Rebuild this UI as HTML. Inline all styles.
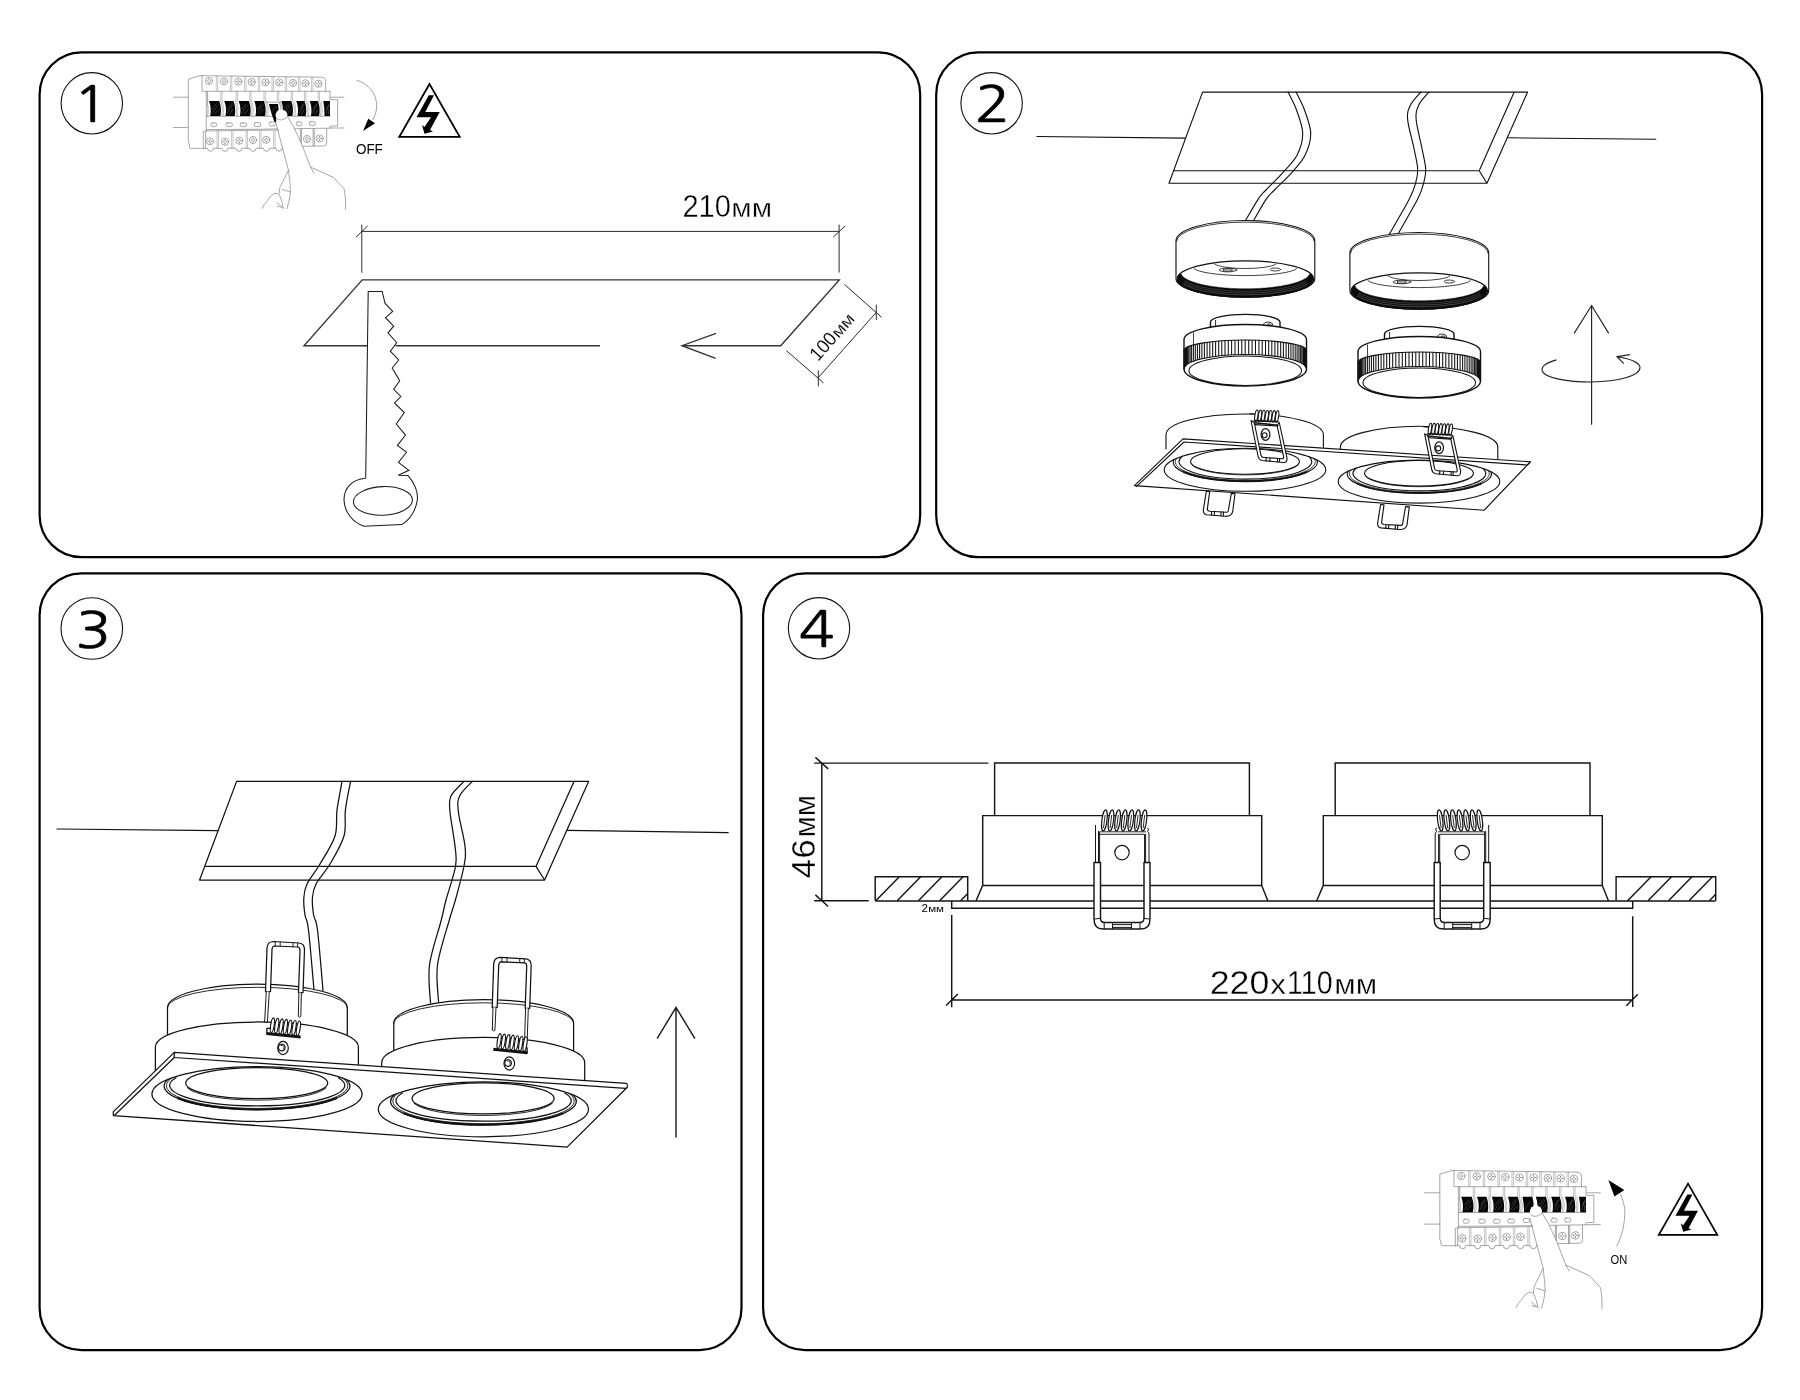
<!DOCTYPE html>
<html lang="ru">
<head>
<meta charset="utf-8">
<title>Инструкция по монтажу</title>
<style>
html,body{margin:0;padding:0;background:#fff;}
body{width:1800px;height:1400px;overflow:hidden;}
svg{display:block;position:absolute;left:0;top:0;will-change:transform;}
text{font-family:"Liberation Sans",sans-serif;fill:#000;}
.fr{fill:none;stroke:#000;stroke-width:2.2;}
.ln{fill:none;stroke:#111;stroke-width:1.1;stroke-linecap:round;stroke-linejoin:round;}
.th{fill:none;stroke:#222;stroke-width:0.8;stroke-linecap:round;stroke-linejoin:round;}
.gr{fill:none;stroke:#8a8a8a;stroke-width:0.8;stroke-linecap:round;stroke-linejoin:round;}
.dim{stroke:#fff;stroke-width:0.35px;}
.dim2{stroke:#fff;stroke-width:0.15px;}
.num{font-family:"NanumGothic","Liberation Sans",sans-serif;font-size:50.7px;stroke:#000;stroke-width:0.7px;}
</style>
</head>
<body>
<svg width="1800" height="1400" viewBox="0 0 1800 1400">
<rect width="1800" height="1400" fill="#fff"/>
<!-- FRAMES -->
<g id="frames">
<rect class="fr" x="39.6" y="52.4" width="880.6" height="504.8" rx="42" ry="42"/>
<rect class="fr" x="936.2" y="52.4" width="825.9" height="504.8" rx="42" ry="42"/>
<rect class="fr" x="39.6" y="573.3" width="701.9" height="776.8" rx="42" ry="42"/>
<rect class="fr" x="763.1" y="573.3" width="999" height="776.8" rx="42" ry="42"/>
</g>
<!-- STEP NUMBERS -->
<g id="steps">
<circle class="ln" cx="91.8" cy="103.3" r="30.7"/>
<circle class="ln" cx="991.6" cy="103.3" r="30.7"/>
<circle class="ln" cx="91.8" cy="628.5" r="30.8"/>
<circle class="ln" cx="819" cy="628.3" r="30.7"/>
<text class="num" x="73.3" y="122.2" textLength="35.3" lengthAdjust="spacingAndGlyphs">1</text>
<text class="num" x="975.1" y="122.1" textLength="35.3" lengthAdjust="spacingAndGlyphs">2</text>
<text class="num" x="75.7" y="647.5" textLength="35.3" lengthAdjust="spacingAndGlyphs">3</text>
<text class="num" x="799" y="647.3" textLength="35.3" lengthAdjust="spacingAndGlyphs">4</text>
</g>
<!--P1-->
<g id="p1-breaker">
<path stroke="#8c8c8c" stroke-width="0.75" fill="none" stroke-linecap="round" stroke-linejoin="round" d="M202,75.7 L199.3,75.7 L188.3,79.3 L188.3,142.8 L189.4,143.6 L189.4,147.2 Q189.6,148.4 191,148.4 L203.3,148.4"/>
<path stroke="#8c8c8c" stroke-width="0.75" fill="none" stroke-linecap="round" stroke-linejoin="round" d="M173.3,97.2 H188.3 M173.3,127.5 H188.3 M330.7,97.2 H344 M330.4,128 H344"/>
<path stroke="#8c8c8c" stroke-width="0.75" fill="none" stroke-linecap="round" stroke-linejoin="round" d="M202,75.7 L321.5,77.2 Q325.7,77.4 325.7,81.5 L325.7,91.3 M202,75.7 V91.3 H330"/>
<path stroke="#999" stroke-width="0.55" fill="none" stroke-linecap="round" stroke-linejoin="round" d="M216.3,76.0 V91.3 M217.8,76.0 V91.3"/>
<path stroke="#999" stroke-width="0.55" fill="none" stroke-linecap="round" stroke-linejoin="round" d="M230.3,76.2 V91.3 M231.8,76.2 V91.3"/>
<path stroke="#999" stroke-width="0.55" fill="none" stroke-linecap="round" stroke-linejoin="round" d="M244.60000000000002,76.4 V91.3 M246.10000000000002,76.4 V91.3"/>
<path stroke="#999" stroke-width="0.55" fill="none" stroke-linecap="round" stroke-linejoin="round" d="M258.3,76.6 V91.3 M259.8,76.6 V91.3"/>
<path stroke="#999" stroke-width="0.55" fill="none" stroke-linecap="round" stroke-linejoin="round" d="M272.0,76.8 V91.3 M273.5,76.8 V91.3"/>
<path stroke="#999" stroke-width="0.55" fill="none" stroke-linecap="round" stroke-linejoin="round" d="M285.2,76.9 V91.3 M286.7,76.9 V91.3"/>
<path stroke="#999" stroke-width="0.55" fill="none" stroke-linecap="round" stroke-linejoin="round" d="M298.6,77.1 V91.3 M300.1,77.1 V91.3"/>
<path stroke="#999" stroke-width="0.55" fill="none" stroke-linecap="round" stroke-linejoin="round" d="M311.6,77.3 V91.3 M313.1,77.3 V91.3"/>
<circle stroke="#8c8c8c" stroke-width="0.75" fill="none" stroke-linecap="round" stroke-linejoin="round" cx="209" cy="81" r="3.6"/>
<path stroke="#555" stroke-width="0.8" fill="none" d="M206.8,81 H208.2 M209.8,81 H211.2 M209,78.7 V80.2 M209,81.8 V83.6"/>
<circle stroke="#8c8c8c" stroke-width="0.75" fill="none" stroke-linecap="round" stroke-linejoin="round" cx="224" cy="81.3" r="3.6"/>
<path stroke="#555" stroke-width="0.8" fill="none" d="M221.8,81.3 H223.2 M224.8,81.3 H226.2 M224,79.0 V80.5 M224,82.1 V83.89999999999999"/>
<circle stroke="#8c8c8c" stroke-width="0.75" fill="none" stroke-linecap="round" stroke-linejoin="round" cx="238.3" cy="81.5" r="3.6"/>
<path stroke="#555" stroke-width="0.8" fill="none" d="M236.10000000000002,81.5 H237.5 M239.10000000000002,81.5 H240.5 M238.3,79.2 V80.7 M238.3,82.3 V84.1"/>
<circle stroke="#8c8c8c" stroke-width="0.75" fill="none" stroke-linecap="round" stroke-linejoin="round" cx="251.7" cy="82" r="3.6"/>
<path stroke="#555" stroke-width="0.8" fill="none" d="M249.5,82 H250.89999999999998 M252.5,82 H253.89999999999998 M251.7,79.7 V81.2 M251.7,82.8 V84.6"/>
<circle stroke="#8c8c8c" stroke-width="0.75" fill="none" stroke-linecap="round" stroke-linejoin="round" cx="265.5" cy="82.4" r="3.6"/>
<path stroke="#555" stroke-width="0.8" fill="none" d="M263.3,82.4 H264.7 M266.3,82.4 H267.7 M265.5,80.10000000000001 V81.60000000000001 M265.5,83.2 V85.0"/>
<circle stroke="#8c8c8c" stroke-width="0.75" fill="none" stroke-linecap="round" stroke-linejoin="round" cx="279.2" cy="82.4" r="3.6"/>
<path stroke="#555" stroke-width="0.8" fill="none" d="M277.0,82.4 H278.4 M280.0,82.4 H281.4 M279.2,80.10000000000001 V81.60000000000001 M279.2,83.2 V85.0"/>
<circle stroke="#8c8c8c" stroke-width="0.75" fill="none" stroke-linecap="round" stroke-linejoin="round" cx="293" cy="83" r="3.6"/>
<path stroke="#555" stroke-width="0.8" fill="none" d="M290.8,83 H292.2 M293.8,83 H295.2 M293,80.7 V82.2 M293,83.8 V85.6"/>
<circle stroke="#8c8c8c" stroke-width="0.75" fill="none" stroke-linecap="round" stroke-linejoin="round" cx="305.4" cy="83.3" r="3.6"/>
<path stroke="#555" stroke-width="0.8" fill="none" d="M303.2,83.3 H304.59999999999997 M306.2,83.3 H307.59999999999997 M305.4,81.0 V82.5 M305.4,84.1 V85.89999999999999"/>
<circle stroke="#8c8c8c" stroke-width="0.75" fill="none" stroke-linecap="round" stroke-linejoin="round" cx="318.3" cy="83.7" r="3.6"/>
<path stroke="#555" stroke-width="0.8" fill="none" d="M316.1,83.7 H317.5 M319.1,83.7 H320.5 M318.3,81.4 V82.9 M318.3,84.5 V86.3"/>
<circle stroke="#8c8c8c" stroke-width="0.75" fill="none" stroke-linecap="round" stroke-linejoin="round" cx="210" cy="141.3" r="3.6"/>
<path stroke="#555" stroke-width="0.8" fill="none" d="M207.8,141.3 H209.2 M210.8,141.3 H212.2 M210,139.0 V140.5 M210,142.10000000000002 V143.9"/>
<circle stroke="#8c8c8c" stroke-width="0.75" fill="none" stroke-linecap="round" stroke-linejoin="round" cx="225" cy="141.7" r="3.6"/>
<path stroke="#555" stroke-width="0.8" fill="none" d="M222.8,141.7 H224.2 M225.8,141.7 H227.2 M225,139.39999999999998 V140.89999999999998 M225,142.5 V144.29999999999998"/>
<circle stroke="#8c8c8c" stroke-width="0.75" fill="none" stroke-linecap="round" stroke-linejoin="round" cx="239.3" cy="140.7" r="3.6"/>
<path stroke="#555" stroke-width="0.8" fill="none" d="M237.10000000000002,140.7 H238.5 M240.10000000000002,140.7 H241.5 M239.3,138.39999999999998 V139.89999999999998 M239.3,141.5 V143.29999999999998"/>
<circle stroke="#8c8c8c" stroke-width="0.75" fill="none" stroke-linecap="round" stroke-linejoin="round" cx="253" cy="140" r="3.6"/>
<path stroke="#555" stroke-width="0.8" fill="none" d="M250.8,140 H252.2 M253.8,140 H255.2 M253,137.7 V139.2 M253,140.8 V142.6"/>
<circle stroke="#8c8c8c" stroke-width="0.75" fill="none" stroke-linecap="round" stroke-linejoin="round" cx="266.3" cy="139.8" r="3.6"/>
<path stroke="#555" stroke-width="0.8" fill="none" d="M264.1,139.8 H265.5 M267.1,139.8 H268.5 M266.3,137.5 V139.0 M266.3,140.60000000000002 V142.4"/>
<circle stroke="#8c8c8c" stroke-width="0.75" fill="none" stroke-linecap="round" stroke-linejoin="round" cx="307" cy="139" r="3.6"/>
<path stroke="#555" stroke-width="0.8" fill="none" d="M304.8,139 H306.2 M307.8,139 H309.2 M307,136.7 V138.2 M307,139.8 V141.6"/>
<circle stroke="#8c8c8c" stroke-width="0.75" fill="none" stroke-linecap="round" stroke-linejoin="round" cx="319.7" cy="138.4" r="3.6"/>
<path stroke="#555" stroke-width="0.8" fill="none" d="M317.5,138.4 H318.9 M320.5,138.4 H321.9 M319.7,136.1 V137.6 M319.7,139.20000000000002 V141.0"/>
<path stroke="#8c8c8c" stroke-width="0.75" fill="none" stroke-linecap="round" stroke-linejoin="round" d="M206.3,91.3 V131 M330,91.3 V99.7 H337.7 V126 H331 M330,126.3 V128"/>
<path stroke="#999" stroke-width="0.55" fill="none" stroke-linecap="round" stroke-linejoin="round" d="M220.70000000000002,91.3 V101 M222.10000000000002,91.3 V101"/>
<path stroke="#999" stroke-width="0.55" fill="none" stroke-linecap="round" stroke-linejoin="round" d="M236.1,91.3 V101 M237.5,91.3 V101"/>
<path stroke="#999" stroke-width="0.55" fill="none" stroke-linecap="round" stroke-linejoin="round" d="M249.70000000000002,91.3 V101 M251.10000000000002,91.3 V101"/>
<path stroke="#999" stroke-width="0.55" fill="none" stroke-linecap="round" stroke-linejoin="round" d="M263.9,91.3 V101 M265.3,91.3 V101"/>
<path stroke="#999" stroke-width="0.55" fill="none" stroke-linecap="round" stroke-linejoin="round" d="M277.4,91.3 V101 M278.8,91.3 V101"/>
<path stroke="#999" stroke-width="0.55" fill="none" stroke-linecap="round" stroke-linejoin="round" d="M291.09999999999997,91.3 V101 M292.5,91.3 V101"/>
<path stroke="#999" stroke-width="0.55" fill="none" stroke-linecap="round" stroke-linejoin="round" d="M304.4,91.3 V101 M305.8,91.3 V101"/>
<path stroke="#999" stroke-width="0.55" fill="none" stroke-linecap="round" stroke-linejoin="round" d="M318.09999999999997,91.3 V101 M319.5,91.3 V101"/>
<path stroke="#8c8c8c" stroke-width="0.75" fill="none" stroke-linecap="round" stroke-linejoin="round" d="M207.6,91.3 V101"/>
<path stroke="#8c8c8c" stroke-width="0.75" fill="none" stroke-linecap="round" stroke-linejoin="round" d="M206.3,116.3 H330 M206.3,129.6 L262,129.2 L300,128.6 L330,128.2"/>
<rect stroke="#8c8c8c" stroke-width="0.75" fill="none" stroke-linecap="round" stroke-linejoin="round" x="211" y="122.8" width="5.7" height="3.8" rx="1.4"/>
<rect stroke="#8c8c8c" stroke-width="0.75" fill="none" stroke-linecap="round" stroke-linejoin="round" x="226" y="122.8" width="6.3" height="3.8" rx="1.4"/>
<rect stroke="#8c8c8c" stroke-width="0.75" fill="none" stroke-linecap="round" stroke-linejoin="round" x="240.3" y="122.8" width="6.4" height="3.8" rx="1.4"/>
<rect stroke="#8c8c8c" stroke-width="0.75" fill="none" stroke-linecap="round" stroke-linejoin="round" x="254.3" y="122.6" width="6.4" height="3.8" rx="1.4"/>
<rect stroke="#8c8c8c" stroke-width="0.75" fill="none" stroke-linecap="round" stroke-linejoin="round" x="269.3" y="122" width="6.0" height="3.8" rx="1.4"/>
<rect stroke="#8c8c8c" stroke-width="0.75" fill="none" stroke-linecap="round" stroke-linejoin="round" x="296.3" y="121.8" width="5.7" height="3.8" rx="1.4"/>
<rect stroke="#8c8c8c" stroke-width="0.75" fill="none" stroke-linecap="round" stroke-linejoin="round" x="309.3" y="121.6" width="6.0" height="3.8" rx="1.4"/>
<path stroke="#8c8c8c" stroke-width="0.75" fill="none" stroke-linecap="round" stroke-linejoin="round" d="M203.3,148.4 V131.4 L206.3,131 L290,129.8"/>
<path stroke="#999" stroke-width="0.55" fill="none" stroke-linecap="round" stroke-linejoin="round" d="M217.0,131 V148.2 M218.5,131 V148.2"/>
<path stroke="#999" stroke-width="0.55" fill="none" stroke-linecap="round" stroke-linejoin="round" d="M231.60000000000002,131 V148.2 M233.10000000000002,131 V148.2"/>
<path stroke="#999" stroke-width="0.55" fill="none" stroke-linecap="round" stroke-linejoin="round" d="M246.0,131 V148.2 M247.5,131 V148.2"/>
<path stroke="#999" stroke-width="0.55" fill="none" stroke-linecap="round" stroke-linejoin="round" d="M259.6,131 V148.2 M261.1,131 V148.2"/>
<path stroke="#999" stroke-width="0.55" fill="none" stroke-linecap="round" stroke-linejoin="round" d="M273.6,131 V148.2 M275.1,131 V148.2"/>
<path stroke="#8c8c8c" stroke-width="0.75" fill="none" stroke-linecap="round" stroke-linejoin="round" d="M205.6,131.2 V148.2"/>
<path stroke="#8c8c8c" stroke-width="0.75" fill="none" stroke-linecap="round" stroke-linejoin="round" d="M203.3,148.4 L207.5,148.3 L208.3,150.6 Q210.5,152 212.7,150.6 L213.5,148.2 L222,148.3 L222.8,150.6 Q225,152 227.2,150.6 L228,148.2 L236,148.3 L236.8,150.6 Q239,152 241.2,150.6 L242,148.2 L250,148.3 L250.8,150.6 Q253,152 255.2,150.6 L256,148.2 L263.5,148.3 L264.3,150.6 Q266.5,152 268.7,150.6 L269.5,148.2 L276,148.3 L276.8,150.6 Q279,152 281.2,150.6 L282,148.2 L285,148"/>
<path stroke="#8c8c8c" stroke-width="0.75" fill="none" stroke-linecap="round" stroke-linejoin="round" d="M300.3,129 V146 M301.5,129 V146 M313.1,129 V146 M314.3,129 V146 M326.7,128.3 V143 Q326.6,146 323.5,146 L296,146.3"/>
<path fill="#050505" d="M209,101 L219.2,101 Q222,108.5 220.4,115.9 L210.2,115.9 Q211.8,108.5 209,101Z"/>
<path stroke="#fff" stroke-opacity="0.4" stroke-width="0.5" fill="none" d="M211.8,113.5 L218.5,104.5 M212,109.5 L216.5,103.5 M214,114.5 L219,109"/>
<path stroke="#999" stroke-width="0.55" fill="none" stroke-linecap="round" stroke-linejoin="round" d="M220.9,101.3 Q223.4,108.5 221.9,115.8 M222.3,101.3 Q224.8,108.5 223.2,115.8"/>
<path fill="#050505" d="M224.3,101 L233.5,101 Q236.3,108.5 234.70000000000002,115.9 L225.5,115.9 Q227.10000000000002,108.5 224.3,101Z"/>
<path stroke="#fff" stroke-opacity="0.4" stroke-width="0.5" fill="none" d="M227.10000000000002,113.5 L232.8,104.5 M227.3,109.5 L231.8,103.5 M229.3,114.5 L233.3,109"/>
<path stroke="#999" stroke-width="0.55" fill="none" stroke-linecap="round" stroke-linejoin="round" d="M235.20000000000002,101.3 Q237.70000000000002,108.5 236.20000000000002,115.8 M236.60000000000002,101.3 Q239.10000000000002,108.5 237.5,115.8"/>
<path fill="#050505" d="M238.7,101 L248.89999999999998,101 Q251.7,108.5 250.1,115.9 L239.89999999999998,115.9 Q241.5,108.5 238.7,101Z"/>
<path stroke="#fff" stroke-opacity="0.4" stroke-width="0.5" fill="none" d="M241.5,113.5 L248.2,104.5 M241.7,109.5 L246.2,103.5 M243.7,114.5 L248.7,109"/>
<path stroke="#999" stroke-width="0.55" fill="none" stroke-linecap="round" stroke-linejoin="round" d="M250.6,101.3 Q253.1,108.5 251.6,115.8 M252.0,101.3 Q254.5,108.5 252.89999999999998,115.8"/>
<path fill="#050505" d="M254.3,101 L263.9,101 Q266.7,108.5 265.09999999999997,115.9 L255.5,115.9 Q257.1,108.5 254.3,101Z"/>
<path stroke="#fff" stroke-opacity="0.4" stroke-width="0.5" fill="none" d="M257.1,113.5 L263.2,104.5 M257.3,109.5 L261.8,103.5 M259.3,114.5 L263.7,109"/>
<path stroke="#999" stroke-width="0.55" fill="none" stroke-linecap="round" stroke-linejoin="round" d="M265.59999999999997,101.3 Q268.09999999999997,108.5 266.59999999999997,115.8 M267.0,101.3 Q269.5,108.5 267.9,115.8"/>
<path fill="#050505" d="M281.3,101 L291.2,101 Q294,108.5 292.4,115.9 L282.5,115.9 Q284.1,108.5 281.3,101Z"/>
<path stroke="#fff" stroke-opacity="0.4" stroke-width="0.5" fill="none" d="M284.1,113.5 L290.5,104.5 M284.3,109.5 L288.8,103.5 M286.3,114.5 L291,109"/>
<path stroke="#999" stroke-width="0.55" fill="none" stroke-linecap="round" stroke-linejoin="round" d="M292.9,101.3 Q295.4,108.5 293.9,115.8 M294.3,101.3 Q296.8,108.5 295.2,115.8"/>
<path fill="#050505" d="M296.3,101 L304.5,101 Q307.3,108.5 305.7,115.9 L297.5,115.9 Q299.1,108.5 296.3,101Z"/>
<path stroke="#fff" stroke-opacity="0.4" stroke-width="0.5" fill="none" d="M299.1,113.5 L303.8,104.5 M299.3,109.5 L303.8,103.5 M301.3,114.5 L304.3,109"/>
<path stroke="#999" stroke-width="0.55" fill="none" stroke-linecap="round" stroke-linejoin="round" d="M306.2,101.3 Q308.7,108.5 307.2,115.8 M307.6,101.3 Q310.1,108.5 308.5,115.8"/>
<path fill="#050505" d="M309.7,101 L317.9,101 Q320.7,108.5 319.09999999999997,115.9 L310.9,115.9 Q312.5,108.5 309.7,101Z"/>
<path stroke="#fff" stroke-opacity="0.4" stroke-width="0.5" fill="none" d="M312.5,113.5 L317.2,104.5 M312.7,109.5 L317.2,103.5 M314.7,114.5 L317.7,109"/>
<path stroke="#999" stroke-width="0.55" fill="none" stroke-linecap="round" stroke-linejoin="round" d="M319.59999999999997,101.3 Q322.09999999999997,108.5 320.59999999999997,115.8 M321.0,101.3 Q323.5,108.5 321.9,115.8"/>
<path fill="#050505" d="M323.3,101 L330,101 L330,115.9 L324.5,115.9 Q324.7,108 323.3,101Z"/>
<path stroke="#fff" stroke-opacity="0.4" stroke-width="0.5" fill="none" d="M326.1,113.5 L328.5,104.5 M326.3,109.5 L330.8,103.5 M328.3,114.5 L329,109"/>
<path stroke="#8c8c8c" stroke-width="0.75" fill="none" stroke-linecap="round" stroke-linejoin="round" d="M207.3,101.2 Q208.6,108 207.8,116"/>
<path fill="#050505" d="M269,104 L278,104 L278.6,109 L276.2,122.2 L274.2,121.6 Q270.6,112 269,104Z"/>
<path stroke="#fff" stroke-opacity="0.33" stroke-width="0.5" fill="none" d="M271.5,112 L276,106"/>
<path stroke="#8c8c8c" stroke-width="0.75" fill="none" stroke-linecap="round" stroke-linejoin="round" d="M264.9,102.2 H280.5 M279.2,102.5 Q281,107 281.3,111 M280.6,102.5 Q282.6,107 282.8,111"/>
<path fill="#fff" stroke="none" d="M276,119 L288.5,170.2 L310.5,167.1 L304.2,150.6 L300.3,141.1 L294,127.8 L287.5,116.5 Z"/>
<circle fill="#fff" stroke="none" cx="281.5" cy="115.3" r="5.9"/>
<path stroke="#8c8c8c" stroke-width="0.75" stroke-linecap="round" stroke-linejoin="round" fill="none" d="M276.6,118.4 Q281,122.6 287.4,116.8"/>
<path stroke="#8c8c8c" stroke-width="0.75" stroke-linecap="round" stroke-linejoin="round" fill="none" d="M275.6,122 L288.5,170.2 L290,183.6 L290.5,192.2 L288.9,201.6 L286.9,208.7"/>
<path stroke="#8c8c8c" stroke-width="0.75" stroke-linecap="round" stroke-linejoin="round" fill="none" d="M288.5,170.2 L279.9,187.5 L279,194.2"/>
<path stroke="#8c8c8c" stroke-width="0.75" stroke-linecap="round" stroke-linejoin="round" fill="none" d="M262.2,208.3 Q264,204 267.5,200.5 Q271.5,194.5 274.4,193.4 Q277.5,192.6 279.6,195.6 Q282.4,201 283.4,208.3"/>
<path stroke="#8c8c8c" stroke-width="0.75" stroke-linecap="round" stroke-linejoin="round" fill="none" d="M282.6,189.5 L290.5,192.2 M277.1,202.8 L283.4,208.3 M277.5,206.4 L281.4,207.2"/>
<path stroke="#8c8c8c" stroke-width="0.75" stroke-linecap="round" stroke-linejoin="round" fill="none" d="M287.7,116.8 L294,127.8 L300.3,141.1 L304.2,150.6 L310.5,167.1 L314,173"/>
<path stroke="#8c8c8c" stroke-width="0.75" stroke-linecap="round" stroke-linejoin="round" fill="none" d="M310.5,167.1 L333.3,177.3 L344.3,189.1 L345.5,199.3 L345.5,209.1"/>
</g>
<path fill="none" stroke="#8c8c8c" stroke-width="0.8" d="M356.7,80.3 C368,83 377,94 376.7,106 C376.5,112 375,116 372.7,120"/>
<path fill="#000" d="M368.3,118.7 L375,123.3 L363,131 Z"/>
<text x="356" y="154.2" font-size="14" textLength="26.8" lengthAdjust="spacingAndGlyphs">OFF</text>
<g id="p1-warning"><path fill="none" stroke="#000" stroke-width="1.8" stroke-linejoin="miter" d="M429.5,84.05 L399.3,136.85 L459.7,136.85 Z"/>
<path fill="#000" d="M428.75,95.25 L434,95.25 L425.25,112 L439.75,112 L430,130 L433,131.5 L424.5,133.75 L422,125 L424.5,127 L431,117.25 L416.5,117.25 Z"/></g>
<path stroke="#2c2c2c" stroke-width="1" fill="none" stroke-linecap="butt" d="M361.8,231.4 H839.1 M361.8,224.6 V272.8 M839.1,224.6 V272.6 M356,237.2 L367.6,226 M833.3,237.2 L845,226"/>
<text class="dim" y="216.8"><tspan font-family="Liberation Sans,sans-serif" font-size="31" x="682.44" textLength="48.39" lengthAdjust="spacingAndGlyphs">210</tspan><tspan font-family="Liberation Sans,sans-serif" font-size="26.1" x="731.35" textLength="40.69" lengthAdjust="spacingAndGlyphs">мм</tspan></text>
<path stroke="#333" stroke-width="1.35" fill="none" stroke-linejoin="miter" stroke-linecap="butt" d="M367,345.7 H304 L362.2,279.9 H839.3 L780.7,345.7 H682 M395.6,345.7 H600"/>
<path stroke="#333" stroke-width="1.35" fill="none" stroke-linejoin="miter" stroke-linecap="butt" d="M716,333.3 L682,345.7 L715.7,358.3"/>
<path stroke="#2c2c2c" stroke-width="1" fill="none" stroke-linecap="butt" d="M844.4,284.4 L881.6,317.3 M786.4,350.7 L823.6,382.9 M876.3,312.3 L818.3,377.6 M876.3,304.7 V320 M818.3,370.4 V386.4"/>
<text transform="translate(810.6,370.25) rotate(-48.3)" class="dim2" y="0"><tspan font-family="Liberation Sans,sans-serif" font-size="19.4" x="11.02" textLength="30.29" lengthAdjust="spacingAndGlyphs">100</tspan><tspan font-family="Liberation Sans,sans-serif" font-size="16.8" x="41.78" textLength="26.13" lengthAdjust="spacingAndGlyphs">мм</tspan></text>
<path stroke="#1c1c1c" stroke-width="1.05" fill="none" stroke-linejoin="miter" d="M365.7,478.3 L368.2,291.5 L382.2,291.5 L385,303.2 L392.7,311.5 L385.5,317.7 L393.7,326.2 L388,332.8 L396.7,342.7 L390.3,351.2 L398.7,360 L392.2,368 L399.7,380.7 L393.7,389.3 L400.8,396.5 L394.5,402.9 L404.3,412.6 L396.3,424 L405.5,435.1 L397.4,445.4 L406.5,452.2 L398.5,462.5 L408.9,470.3 L398.3,475.2 L407.8,475.4 C414,482 418.5,492 417.3,500 C416,510 410,520 401.7,524.6 L364,526.3 C352,522 344.5,512 344,500 C343.8,488 352,479.5 365.7,478.3"/>
<ellipse stroke="#1c1c1c" stroke-width="1.05" fill="none" stroke-linejoin="miter" cx="382.9" cy="500.9" rx="29.5" ry="14.3" transform="rotate(-2.2 382.9 500.9)"/>
<!--/P1-->
<!--P2-->
<path stroke="#111" stroke-width="1.12" fill="none" stroke-linecap="round" stroke-linejoin="round" d="M1036.9,136.5 L1185.3,138.1 M1508,137.8 L1655.8,139.3"/>
<path stroke="#111" stroke-width="1.12" fill="none" stroke-linecap="round" stroke-linejoin="round" d="M1202.6,92.1 H1527.6 L1487,183.3 H1169 Z M1173.8,170.7 H1479.2 L1487,183.3 M1479.2,170.7 L1514.2,92.1"/>
<path stroke="#111" stroke-width="1.12" fill="none" stroke-linecap="round" stroke-linejoin="round" d="M1288.1,92.1 C1289.5,95.1 1294.1,103.1 1296.5,110.0 C1298.9,116.9 1302.6,125.9 1302.7,133.3 C1302.8,140.8 1300.6,148.2 1297.3,154.7 C1294.0,161.2 1288.3,166.5 1283.1,172.4 C1277.9,178.3 1270.2,185.6 1266.0,190.0 C1261.8,194.4 1261.7,193.8 1258.2,199.1 C1254.7,204.3 1247.2,217.8 1245.0,221.5"/>
<path stroke="#111" stroke-width="1.12" fill="none" stroke-linecap="round" stroke-linejoin="round" d="M1296.1,92.1 C1297.5,95.1 1302.1,103.1 1304.5,110.0 C1306.9,116.9 1310.6,125.9 1310.7,133.3 C1310.8,140.8 1308.4,148.2 1305.3,154.7 C1302.2,161.2 1297.1,166.5 1292.0,172.4 C1286.9,178.3 1278.8,185.6 1274.5,190.0 C1270.2,194.4 1269.8,193.8 1266.2,199.1 C1262.6,204.3 1255.2,217.8 1253.0,221.5"/>
<path stroke="#111" stroke-width="1.12" fill="none" stroke-linecap="round" stroke-linejoin="round" d="M1420.9,92.1 C1419.2,94.2 1412.7,100.5 1410.5,105.0 C1408.3,109.5 1407.0,112.0 1407.6,119.1 C1408.1,126.2 1412.1,139.3 1413.8,147.6 C1415.5,155.9 1417.4,163.0 1417.7,168.9 C1418.0,174.8 1417.0,178.1 1415.6,183.1 C1414.2,188.1 1413.7,190.5 1409.3,199.1 C1404.9,207.7 1392.4,228.9 1389.0,234.8"/>
<path stroke="#111" stroke-width="1.12" fill="none" stroke-linecap="round" stroke-linejoin="round" d="M1428.9,92.1 C1427.2,94.2 1420.9,100.5 1418.8,105.0 C1416.7,109.5 1415.6,112.0 1416.1,119.1 C1416.6,126.2 1420.2,139.3 1421.8,147.6 C1423.4,155.9 1425.4,163.0 1425.7,168.9 C1426.0,174.8 1424.9,178.1 1423.6,183.1 C1422.3,188.1 1422.0,190.6 1417.7,199.1 C1413.4,207.6 1401.1,228.4 1397.8,234.3"/>
<g id="p2-holders">
<g transform="translate(0,0)">
<path stroke="#111" stroke-width="1.12" fill="#fff" stroke-linecap="round" stroke-linejoin="round" d="M1176.0,241 A69.4,20.5 0 0 1 1314.8000000000002,241 L1314.8000000000002,278.5 A69.4,18.7 0 0 1 1176.0,278.5 Z"/>
<path stroke="#111" fill="none" stroke-linecap="round" stroke-linejoin="round" stroke-width="0.8" d="M1176.6,241.2 A68.80000000000001,19.1 0 0 1 1314.2000000000003,241.2"/>
<ellipse stroke="#111" fill="none" stroke-linecap="round" stroke-linejoin="round" stroke-width="1.15" cx="1245.4" cy="279" rx="68.2" ry="18.2"/>
<path stroke="#111" fill="none" stroke-linecap="round" stroke-linejoin="round" stroke-width="0.8" d="M1194,268.6 A52,8.3 0 0 0 1296.5,268.8"/>
<path stroke="#111" fill="none" stroke-linecap="round" stroke-linejoin="round" stroke-width="0.8" d="M1214.5,264 A31.5,5.8 0 0 0 1276,264"/>
<ellipse stroke="#111" fill="none" stroke-linecap="round" stroke-linejoin="round" stroke-width="0.8" cx="1228" cy="270" rx="9" ry="1.8"/>
<path stroke="#111" fill="none" stroke-linecap="round" stroke-linejoin="round" stroke-width="0.8" d="M1224,269 H1232 V271 H1224Z"/>
<ellipse stroke="#111" fill="none" stroke-linecap="round" stroke-linejoin="round" stroke-width="0.8" cx="1275.5" cy="269.5" rx="5.3" ry="1.5"/>
<path fill="#0a0a0a" stroke="#0a0a0a" stroke-width="0.5" d="M1177.4,279.0 L1178.5,282.3 L1179.7,283.6 L1180.8,284.6 L1181.9,285.5 L1183.1,286.2 L1184.2,286.8 L1185.3,287.4 L1186.5,288.0 L1187.6,288.5 L1188.7,288.9 L1189.9,289.4 L1191.0,289.8 L1192.1,290.2 L1193.3,290.6 L1194.4,290.9 L1195.5,291.2 L1196.7,291.6 L1197.8,291.9 L1198.9,292.1 L1200.1,292.4 L1201.2,292.7 L1202.3,292.9 L1203.5,293.2 L1204.6,293.4 L1205.7,293.6 L1206.9,293.8 L1208.0,294.0 L1209.1,294.2 L1210.3,294.4 L1211.4,294.6 L1212.5,294.8 L1213.7,294.9 L1214.8,295.1 L1215.9,295.2 L1217.1,295.4 L1218.2,295.5 L1219.3,295.6 L1220.5,295.7 L1221.6,295.9 L1222.7,296.0 L1223.9,296.1 L1225.0,296.2 L1226.1,296.3 L1227.3,296.3 L1228.4,296.4 L1229.5,296.5 L1230.7,296.6 L1231.8,296.6 L1232.9,296.7 L1234.1,296.7 L1235.2,296.8 L1236.3,296.8 L1237.5,296.9 L1238.6,296.9 L1239.7,296.9 L1240.9,297.0 L1242.0,297.0 L1243.1,297.0 L1244.3,297.0 L1245.4,297.0 L1246.5,297.0 L1247.7,297.0 L1248.8,297.0 L1249.9,297.0 L1251.1,296.9 L1252.2,296.9 L1253.3,296.9 L1254.5,296.8 L1255.6,296.8 L1256.7,296.7 L1257.9,296.7 L1259.0,296.6 L1260.1,296.6 L1261.3,296.5 L1262.4,296.4 L1263.5,296.3 L1264.7,296.3 L1265.8,296.2 L1266.9,296.1 L1268.1,296.0 L1269.2,295.9 L1270.3,295.7 L1271.5,295.6 L1272.6,295.5 L1273.7,295.4 L1274.9,295.2 L1276.0,295.1 L1277.1,294.9 L1278.3,294.8 L1279.4,294.6 L1280.5,294.4 L1281.7,294.2 L1282.8,294.0 L1283.9,293.8 L1285.1,293.6 L1286.2,293.4 L1287.3,293.2 L1288.5,292.9 L1289.6,292.7 L1290.7,292.4 L1291.9,292.1 L1293.0,291.9 L1294.1,291.6 L1295.3,291.2 L1296.4,290.9 L1297.5,290.6 L1298.7,290.2 L1299.8,289.8 L1300.9,289.4 L1302.1,288.9 L1303.2,288.5 L1304.3,288.0 L1305.5,287.4 L1306.6,286.8 L1307.7,286.2 L1308.9,285.5 L1310.0,284.6 L1311.1,283.6 L1312.3,282.3 L1313.4,279.0 L1313.4,279.0 L1312.3,275.7 L1311.1,274.4 L1310.0,273.4 L1308.9,275.5 L1307.7,276.7 L1306.6,277.7 L1305.5,278.4 L1304.3,279.1 L1303.2,279.7 L1302.1,280.3 L1300.9,280.8 L1299.8,281.2 L1298.7,281.7 L1297.5,282.1 L1296.4,282.5 L1295.3,282.8 L1294.1,283.2 L1293.0,283.5 L1291.9,283.8 L1290.7,284.1 L1289.6,284.4 L1288.5,284.6 L1287.3,284.9 L1286.2,285.1 L1285.1,285.3 L1283.9,285.6 L1282.8,285.8 L1281.7,286.0 L1280.5,286.2 L1279.4,286.3 L1278.3,286.5 L1277.1,286.7 L1276.0,286.8 L1274.9,287.0 L1273.7,287.1 L1272.6,287.3 L1271.5,287.4 L1270.3,287.5 L1269.2,287.6 L1268.1,287.8 L1266.9,287.9 L1265.8,288.0 L1264.7,288.1 L1263.5,288.1 L1262.4,288.2 L1261.3,288.3 L1260.1,288.4 L1259.0,288.4 L1257.9,288.5 L1256.7,288.5 L1255.6,288.6 L1254.5,288.6 L1253.3,288.7 L1252.2,288.7 L1251.1,288.7 L1249.9,288.8 L1248.8,288.8 L1247.7,288.8 L1246.5,288.8 L1245.4,288.8 L1244.3,288.8 L1243.1,288.8 L1242.0,288.8 L1240.9,288.8 L1239.7,288.7 L1238.6,288.7 L1237.5,288.7 L1236.3,288.6 L1235.2,288.6 L1234.1,288.5 L1232.9,288.5 L1231.8,288.4 L1230.7,288.4 L1229.5,288.3 L1228.4,288.2 L1227.3,288.1 L1226.1,288.1 L1225.0,288.0 L1223.9,287.9 L1222.7,287.8 L1221.6,287.6 L1220.5,287.5 L1219.3,287.4 L1218.2,287.3 L1217.1,287.1 L1215.9,287.0 L1214.8,286.8 L1213.7,286.7 L1212.5,286.5 L1211.4,286.3 L1210.3,286.2 L1209.1,286.0 L1208.0,285.8 L1206.9,285.6 L1205.7,285.3 L1204.6,285.1 L1203.5,284.9 L1202.3,284.6 L1201.2,284.4 L1200.1,284.1 L1198.9,283.8 L1197.8,283.5 L1196.7,283.2 L1195.5,282.8 L1194.4,282.5 L1193.3,282.1 L1192.1,281.7 L1191.0,281.2 L1189.9,280.8 L1188.7,280.3 L1187.6,279.7 L1186.5,279.1 L1185.3,278.4 L1184.2,277.7 L1183.1,276.7 L1181.9,275.5 L1180.8,273.4 L1179.7,274.4 L1178.5,275.7 L1177.4,279.0Z"/>
<path fill="none" stroke="#fff" stroke-opacity="0.5" stroke-width="0.45" d="M1183.1,283.8 A67.0,17.6 0 0 0 1307.7,283.8"/>
<path fill="none" stroke="#fff" stroke-opacity="0.45" stroke-width="0.45" d="M1183.9,282.2 A66.1,17.2 0 0 0 1306.9,282.2"/>
<path fill="none" stroke="#fff" stroke-opacity="0.4" stroke-width="0.45" d="M1184.7,280.7 A65.3,16.8 0 0 0 1306.1,280.7"/>
</g>
<g transform="translate(173.9,12)">
<path stroke="#111" stroke-width="1.12" fill="#fff" stroke-linecap="round" stroke-linejoin="round" d="M1176.0,241 A69.4,20.5 0 0 1 1314.8000000000002,241 L1314.8000000000002,278.5 A69.4,18.7 0 0 1 1176.0,278.5 Z"/>
<path stroke="#111" fill="none" stroke-linecap="round" stroke-linejoin="round" stroke-width="0.8" d="M1176.6,241.2 A68.80000000000001,19.1 0 0 1 1314.2000000000003,241.2"/>
<ellipse stroke="#111" fill="none" stroke-linecap="round" stroke-linejoin="round" stroke-width="1.15" cx="1245.4" cy="279" rx="68.2" ry="18.2"/>
<path stroke="#111" fill="none" stroke-linecap="round" stroke-linejoin="round" stroke-width="0.8" d="M1194,268.6 A52,8.3 0 0 0 1296.5,268.8"/>
<path stroke="#111" fill="none" stroke-linecap="round" stroke-linejoin="round" stroke-width="0.8" d="M1214.5,264 A31.5,5.8 0 0 0 1276,264"/>
<ellipse stroke="#111" fill="none" stroke-linecap="round" stroke-linejoin="round" stroke-width="0.8" cx="1228" cy="270" rx="9" ry="1.8"/>
<path stroke="#111" fill="none" stroke-linecap="round" stroke-linejoin="round" stroke-width="0.8" d="M1224,269 H1232 V271 H1224Z"/>
<ellipse stroke="#111" fill="none" stroke-linecap="round" stroke-linejoin="round" stroke-width="0.8" cx="1275.5" cy="269.5" rx="5.3" ry="1.5"/>
<path fill="#0a0a0a" stroke="#0a0a0a" stroke-width="0.5" d="M1177.4,279.0 L1178.5,282.3 L1179.7,283.6 L1180.8,284.6 L1181.9,285.5 L1183.1,286.2 L1184.2,286.8 L1185.3,287.4 L1186.5,288.0 L1187.6,288.5 L1188.7,288.9 L1189.9,289.4 L1191.0,289.8 L1192.1,290.2 L1193.3,290.6 L1194.4,290.9 L1195.5,291.2 L1196.7,291.6 L1197.8,291.9 L1198.9,292.1 L1200.1,292.4 L1201.2,292.7 L1202.3,292.9 L1203.5,293.2 L1204.6,293.4 L1205.7,293.6 L1206.9,293.8 L1208.0,294.0 L1209.1,294.2 L1210.3,294.4 L1211.4,294.6 L1212.5,294.8 L1213.7,294.9 L1214.8,295.1 L1215.9,295.2 L1217.1,295.4 L1218.2,295.5 L1219.3,295.6 L1220.5,295.7 L1221.6,295.9 L1222.7,296.0 L1223.9,296.1 L1225.0,296.2 L1226.1,296.3 L1227.3,296.3 L1228.4,296.4 L1229.5,296.5 L1230.7,296.6 L1231.8,296.6 L1232.9,296.7 L1234.1,296.7 L1235.2,296.8 L1236.3,296.8 L1237.5,296.9 L1238.6,296.9 L1239.7,296.9 L1240.9,297.0 L1242.0,297.0 L1243.1,297.0 L1244.3,297.0 L1245.4,297.0 L1246.5,297.0 L1247.7,297.0 L1248.8,297.0 L1249.9,297.0 L1251.1,296.9 L1252.2,296.9 L1253.3,296.9 L1254.5,296.8 L1255.6,296.8 L1256.7,296.7 L1257.9,296.7 L1259.0,296.6 L1260.1,296.6 L1261.3,296.5 L1262.4,296.4 L1263.5,296.3 L1264.7,296.3 L1265.8,296.2 L1266.9,296.1 L1268.1,296.0 L1269.2,295.9 L1270.3,295.7 L1271.5,295.6 L1272.6,295.5 L1273.7,295.4 L1274.9,295.2 L1276.0,295.1 L1277.1,294.9 L1278.3,294.8 L1279.4,294.6 L1280.5,294.4 L1281.7,294.2 L1282.8,294.0 L1283.9,293.8 L1285.1,293.6 L1286.2,293.4 L1287.3,293.2 L1288.5,292.9 L1289.6,292.7 L1290.7,292.4 L1291.9,292.1 L1293.0,291.9 L1294.1,291.6 L1295.3,291.2 L1296.4,290.9 L1297.5,290.6 L1298.7,290.2 L1299.8,289.8 L1300.9,289.4 L1302.1,288.9 L1303.2,288.5 L1304.3,288.0 L1305.5,287.4 L1306.6,286.8 L1307.7,286.2 L1308.9,285.5 L1310.0,284.6 L1311.1,283.6 L1312.3,282.3 L1313.4,279.0 L1313.4,279.0 L1312.3,275.7 L1311.1,274.4 L1310.0,273.4 L1308.9,275.5 L1307.7,276.7 L1306.6,277.7 L1305.5,278.4 L1304.3,279.1 L1303.2,279.7 L1302.1,280.3 L1300.9,280.8 L1299.8,281.2 L1298.7,281.7 L1297.5,282.1 L1296.4,282.5 L1295.3,282.8 L1294.1,283.2 L1293.0,283.5 L1291.9,283.8 L1290.7,284.1 L1289.6,284.4 L1288.5,284.6 L1287.3,284.9 L1286.2,285.1 L1285.1,285.3 L1283.9,285.6 L1282.8,285.8 L1281.7,286.0 L1280.5,286.2 L1279.4,286.3 L1278.3,286.5 L1277.1,286.7 L1276.0,286.8 L1274.9,287.0 L1273.7,287.1 L1272.6,287.3 L1271.5,287.4 L1270.3,287.5 L1269.2,287.6 L1268.1,287.8 L1266.9,287.9 L1265.8,288.0 L1264.7,288.1 L1263.5,288.1 L1262.4,288.2 L1261.3,288.3 L1260.1,288.4 L1259.0,288.4 L1257.9,288.5 L1256.7,288.5 L1255.6,288.6 L1254.5,288.6 L1253.3,288.7 L1252.2,288.7 L1251.1,288.7 L1249.9,288.8 L1248.8,288.8 L1247.7,288.8 L1246.5,288.8 L1245.4,288.8 L1244.3,288.8 L1243.1,288.8 L1242.0,288.8 L1240.9,288.8 L1239.7,288.7 L1238.6,288.7 L1237.5,288.7 L1236.3,288.6 L1235.2,288.6 L1234.1,288.5 L1232.9,288.5 L1231.8,288.4 L1230.7,288.4 L1229.5,288.3 L1228.4,288.2 L1227.3,288.1 L1226.1,288.1 L1225.0,288.0 L1223.9,287.9 L1222.7,287.8 L1221.6,287.6 L1220.5,287.5 L1219.3,287.4 L1218.2,287.3 L1217.1,287.1 L1215.9,287.0 L1214.8,286.8 L1213.7,286.7 L1212.5,286.5 L1211.4,286.3 L1210.3,286.2 L1209.1,286.0 L1208.0,285.8 L1206.9,285.6 L1205.7,285.3 L1204.6,285.1 L1203.5,284.9 L1202.3,284.6 L1201.2,284.4 L1200.1,284.1 L1198.9,283.8 L1197.8,283.5 L1196.7,283.2 L1195.5,282.8 L1194.4,282.5 L1193.3,282.1 L1192.1,281.7 L1191.0,281.2 L1189.9,280.8 L1188.7,280.3 L1187.6,279.7 L1186.5,279.1 L1185.3,278.4 L1184.2,277.7 L1183.1,276.7 L1181.9,275.5 L1180.8,273.4 L1179.7,274.4 L1178.5,275.7 L1177.4,279.0Z"/>
<path fill="none" stroke="#fff" stroke-opacity="0.5" stroke-width="0.45" d="M1183.1,283.8 A67.0,17.6 0 0 0 1307.7,283.8"/>
<path fill="none" stroke="#fff" stroke-opacity="0.45" stroke-width="0.45" d="M1183.9,282.2 A66.1,17.2 0 0 0 1306.9,282.2"/>
<path fill="none" stroke="#fff" stroke-opacity="0.4" stroke-width="0.45" d="M1184.7,280.7 A65.3,16.8 0 0 0 1306.1,280.7"/>
</g>
</g>
<g id="p2-lamps">
<g transform="translate(0,0)">
<path stroke="#111" fill="#fff" stroke-linecap="round" stroke-linejoin="round" stroke-width="1.4" d="M1210.5,327.5 V322 A34.75,7.6 0 0 1 1280,322 V326.8"/>
<path stroke="#111" fill="none" stroke-linecap="round" stroke-linejoin="round" stroke-width="0.9" d="M1215.6,327 V320.4"/>
<path stroke="#111" fill="none" stroke-linecap="round" stroke-linejoin="round" stroke-width="0.9" d="M1263.6,324.6 A4.5,2.6 0 0 1 1272.6,324.8 M1266.6,325 A2.6,1.4 0 0 1 1271.6,325"/>
<path stroke="#111" fill="#fff" stroke-linecap="round" stroke-linejoin="round" stroke-width="1.4" d="M1184.0,339.5 A61.25,15 0 0 1 1306.5,339.5 L1306.5,369 A61.25,17 0 0 1 1184.0,369 Z"/>
<path stroke="#111" fill="none" stroke-linecap="round" stroke-linejoin="round" stroke-width="0.8" d="M1193.5,333 V347"/>
<path stroke="#111" stroke-width="1.05" fill="none" d="M1184.1,349.9 V368.2 M1184.4,349.3 V367.4 M1184.9,348.7 V366.6 M1185.5,348.2 V365.8 M1186.4,347.6 V365.0 M1187.4,347.0 V364.2 M1188.7,346.5 V363.5 M1190.1,345.9 V362.7 M1191.6,345.4 V362.0 M1193.4,344.9 V361.3 M1195.3,344.4 V360.6 M1197.4,344.0 V360.0 M1199.6,343.5 V359.3 M1201.9,343.1 V358.7 M1204.4,342.7 V358.2 M1207.1,342.3 V357.7 M1209.8,341.9 V357.2 M1212.7,341.6 V356.7 M1215.6,341.3 V356.3 M1218.7,341.0 V355.9 M1221.8,340.8 V355.6 M1225.0,340.6 V355.3 M1228.3,340.4 V355.1 M1231.6,340.3 V354.9 M1235.0,340.1 V354.7 M1238.4,340.1 V354.6 M1241.8,340.0 V354.5 M1245.2,340.0 V354.5 M1248.7,340.0 V354.5 M1252.1,340.1 V354.6 M1255.5,340.1 V354.7 M1258.9,340.3 V354.9 M1262.2,340.4 V355.1 M1265.5,340.6 V355.3 M1268.7,340.8 V355.6 M1271.8,341.0 V355.9 M1274.9,341.3 V356.3 M1277.8,341.6 V356.7 M1280.7,341.9 V357.2 M1283.4,342.3 V357.7 M1286.1,342.7 V358.2 M1288.6,343.1 V358.7 M1290.9,343.5 V359.3 M1293.1,344.0 V360.0 M1295.2,344.4 V360.6 M1297.1,344.9 V361.3 M1298.9,345.4 V362.0 M1300.4,345.9 V362.7 M1301.8,346.5 V363.5 M1303.1,347.0 V364.2 M1304.1,347.6 V365.0 M1305.0,348.2 V365.8 M1305.6,348.7 V366.6 M1306.1,349.3 V367.4 M1306.4,349.9 V368.2 "/>
<path fill="#111" d="M1184.0,350.5 L1187.2,347.2 L1187.2,364.4 L1184.0,369 Z"/>
<path fill="#111" d="M1306.5,350.5 L1303.3,347.2 L1303.3,364.4 L1306.5,369 Z"/>
<path stroke="#111" fill="none" stroke-linecap="round" stroke-linejoin="round" stroke-width="1.2" d="M1184.0,350.5 A61.25,10.5 0 0 1 1306.5,350.5"/>
<path stroke="#111" fill="none" stroke-linecap="round" stroke-linejoin="round" stroke-width="1.2" d="M1184.0,369 A61.25,14.5 0 0 1 1306.5,369"/>
<ellipse stroke="#111" fill="#fff" stroke-linecap="round" stroke-linejoin="round" stroke-width="1.05" cx="1245.25" cy="370.7" rx="56.25" ry="14.75"/>
</g>
<g transform="translate(174,12)">
<path stroke="#111" fill="#fff" stroke-linecap="round" stroke-linejoin="round" stroke-width="1.4" d="M1210.5,327.5 V322 A34.75,7.6 0 0 1 1280,322 V326.8"/>
<path stroke="#111" fill="none" stroke-linecap="round" stroke-linejoin="round" stroke-width="0.9" d="M1215.6,327 V320.4"/>
<path stroke="#111" fill="none" stroke-linecap="round" stroke-linejoin="round" stroke-width="0.9" d="M1263.6,324.6 A4.5,2.6 0 0 1 1272.6,324.8 M1266.6,325 A2.6,1.4 0 0 1 1271.6,325"/>
<path stroke="#111" fill="#fff" stroke-linecap="round" stroke-linejoin="round" stroke-width="1.4" d="M1184.0,339.5 A61.25,15 0 0 1 1306.5,339.5 L1306.5,369 A61.25,17 0 0 1 1184.0,369 Z"/>
<path stroke="#111" fill="none" stroke-linecap="round" stroke-linejoin="round" stroke-width="0.8" d="M1193.5,333 V347"/>
<path stroke="#111" stroke-width="1.05" fill="none" d="M1184.1,349.9 V368.2 M1184.4,349.3 V367.4 M1184.9,348.7 V366.6 M1185.5,348.2 V365.8 M1186.4,347.6 V365.0 M1187.4,347.0 V364.2 M1188.7,346.5 V363.5 M1190.1,345.9 V362.7 M1191.6,345.4 V362.0 M1193.4,344.9 V361.3 M1195.3,344.4 V360.6 M1197.4,344.0 V360.0 M1199.6,343.5 V359.3 M1201.9,343.1 V358.7 M1204.4,342.7 V358.2 M1207.1,342.3 V357.7 M1209.8,341.9 V357.2 M1212.7,341.6 V356.7 M1215.6,341.3 V356.3 M1218.7,341.0 V355.9 M1221.8,340.8 V355.6 M1225.0,340.6 V355.3 M1228.3,340.4 V355.1 M1231.6,340.3 V354.9 M1235.0,340.1 V354.7 M1238.4,340.1 V354.6 M1241.8,340.0 V354.5 M1245.2,340.0 V354.5 M1248.7,340.0 V354.5 M1252.1,340.1 V354.6 M1255.5,340.1 V354.7 M1258.9,340.3 V354.9 M1262.2,340.4 V355.1 M1265.5,340.6 V355.3 M1268.7,340.8 V355.6 M1271.8,341.0 V355.9 M1274.9,341.3 V356.3 M1277.8,341.6 V356.7 M1280.7,341.9 V357.2 M1283.4,342.3 V357.7 M1286.1,342.7 V358.2 M1288.6,343.1 V358.7 M1290.9,343.5 V359.3 M1293.1,344.0 V360.0 M1295.2,344.4 V360.6 M1297.1,344.9 V361.3 M1298.9,345.4 V362.0 M1300.4,345.9 V362.7 M1301.8,346.5 V363.5 M1303.1,347.0 V364.2 M1304.1,347.6 V365.0 M1305.0,348.2 V365.8 M1305.6,348.7 V366.6 M1306.1,349.3 V367.4 M1306.4,349.9 V368.2 "/>
<path fill="#111" d="M1184.0,350.5 L1187.2,347.2 L1187.2,364.4 L1184.0,369 Z"/>
<path fill="#111" d="M1306.5,350.5 L1303.3,347.2 L1303.3,364.4 L1306.5,369 Z"/>
<path stroke="#111" fill="none" stroke-linecap="round" stroke-linejoin="round" stroke-width="1.2" d="M1184.0,350.5 A61.25,10.5 0 0 1 1306.5,350.5"/>
<path stroke="#111" fill="none" stroke-linecap="round" stroke-linejoin="round" stroke-width="1.2" d="M1184.0,369 A61.25,14.5 0 0 1 1306.5,369"/>
<ellipse stroke="#111" fill="#fff" stroke-linecap="round" stroke-linejoin="round" stroke-width="1.05" cx="1245.25" cy="370.7" rx="56.25" ry="14.75"/>
</g>
</g>
<g id="p2-fixture">
<path stroke="#111" stroke-width="1.12" fill="none" stroke-linecap="round" stroke-linejoin="round" transform="translate(0,0)" d="M1166,449 V434.7 A78.7,20.7 0 0 1 1323.4,434.7 V448"/>
<path stroke="#111" stroke-width="1.12" fill="none" stroke-linecap="round" stroke-linejoin="round" transform="translate(174.4,12.3)" d="M1166,449 V434.7 A78.7,20.7 0 0 1 1323.4,434.7 V448"/>
<g transform="translate(0,0)">
<path stroke="#111" stroke-width="1.12" fill="#fff" stroke-linecap="round" stroke-linejoin="round" d="M1206.3,491.3 L1203.3,510 Q1203.2,514 1206.7,514.7 L1225,516.3 Q1231.6,516.6 1232.7,511.7 L1235,493.7 L1231.3,493.4 L1228.3,510.7 Q1228.2,512.2 1226.6,512.2 L1210,511.3 Q1207.4,511 1207.3,509.3 L1209.7,491.6 Z"/>
<path stroke="#111" stroke-width="1.12" fill="none" stroke-linecap="round" stroke-linejoin="round" d="M1211.8,511.5 L1211.4,514.9 M1214.6,511.6 L1214.2,515.2 M1221.2,512 L1220.8,515.8 M1223.6,512.1 L1223.2,516"/>
</g>
<g transform="translate(174.3,13.2)">
<path stroke="#111" stroke-width="1.12" fill="#fff" stroke-linecap="round" stroke-linejoin="round" d="M1206.3,491.3 L1203.3,510 Q1203.2,514 1206.7,514.7 L1225,516.3 Q1231.6,516.6 1232.7,511.7 L1235,493.7 L1231.3,493.4 L1228.3,510.7 Q1228.2,512.2 1226.6,512.2 L1210,511.3 Q1207.4,511 1207.3,509.3 L1209.7,491.6 Z"/>
<path stroke="#111" stroke-width="1.12" fill="none" stroke-linecap="round" stroke-linejoin="round" d="M1211.8,511.5 L1211.4,514.9 M1214.6,511.6 L1214.2,515.2 M1221.2,512 L1220.8,515.8 M1223.6,512.1 L1223.2,516"/>
</g>
<path stroke="#111" stroke-width="1.12" fill="#fff" stroke-linecap="round" stroke-linejoin="round" d="M1183,438.9 L1530.3,461.8 L1484.2,510.2 L1134.5,485.6 Z"/>
<path stroke="#111" stroke-width="1.12" fill="none" stroke-linecap="round" stroke-linejoin="round" d="M1136.6,486.3 L1184,442 L1527.4,465 L1530.3,461.8"/>
<g transform="translate(0,0)">
<ellipse stroke="#111" stroke-width="1.12" fill="none" stroke-linecap="round" stroke-linejoin="round" cx="1245" cy="469.8" rx="80.8" ry="21.5"/>
<path stroke="#111" stroke-width="1.12" fill="none" stroke-linecap="round" stroke-linejoin="round" d="M1173.9,459.6 A72.1,19 0 1 0 1316.9,460.0"/>
<path stroke="#111" fill="none" stroke-linecap="round" stroke-linejoin="round" stroke-width="1.9" d="M1184,472.2 A72.1,19 0 0 0 1306.6,472.2"/>
<path stroke="#111" fill="none" stroke-linecap="round" stroke-linejoin="round" stroke-width="0.8" d="M1176.4,458.4 A70.2,18.4 0 1 0 1314.4,458.8"/>
<path stroke="#111" stroke-width="1.12" fill="none" stroke-linecap="round" stroke-linejoin="round" d="M1182.4,456.2 A66.4,17.4 0 1 0 1309.0,456.7"/>
<ellipse stroke="#111" stroke-width="1.12" fill="none" stroke-linecap="round" stroke-linejoin="round" cx="1245" cy="461.5" rx="54.4" ry="12.8"/>
<path stroke="#111" fill="none" stroke-linecap="round" stroke-linejoin="round" stroke-width="0.8" d="M1192,465 A54.4,12.8 0 0 0 1298,465"/>
</g>
<g transform="translate(174,11.8)">
<ellipse stroke="#111" stroke-width="1.12" fill="none" stroke-linecap="round" stroke-linejoin="round" cx="1245" cy="469.8" rx="80.8" ry="21.5"/>
<path stroke="#111" stroke-width="1.12" fill="none" stroke-linecap="round" stroke-linejoin="round" d="M1173.9,459.6 A72.1,19 0 1 0 1316.9,460.0"/>
<path stroke="#111" fill="none" stroke-linecap="round" stroke-linejoin="round" stroke-width="1.9" d="M1184,472.2 A72.1,19 0 0 0 1306.6,472.2"/>
<path stroke="#111" fill="none" stroke-linecap="round" stroke-linejoin="round" stroke-width="0.8" d="M1176.4,458.4 A70.2,18.4 0 1 0 1314.4,458.8"/>
<path stroke="#111" stroke-width="1.12" fill="none" stroke-linecap="round" stroke-linejoin="round" d="M1182.4,456.2 A66.4,17.4 0 1 0 1309.0,456.7"/>
<ellipse stroke="#111" stroke-width="1.12" fill="none" stroke-linecap="round" stroke-linejoin="round" cx="1245" cy="461.5" rx="54.4" ry="12.8"/>
<path stroke="#111" fill="none" stroke-linecap="round" stroke-linejoin="round" stroke-width="0.8" d="M1192,465 A54.4,12.8 0 0 0 1298,465"/>
</g>
<g transform="translate(0,0)">
<path stroke="#111" stroke-width="1.12" fill="#fff" stroke-linecap="round" stroke-linejoin="round" d="M1251,420.5 L1254.25,422.5 L1261,455.5 Q1261.6,457.4 1264,457.5 L1283,458.75 L1283.75,457.5 L1277,425 L1279.25,422.5 L1287,458 Q1287.3,462.4 1283.75,462.5 L1262,460.5 Q1258.6,459.6 1258,456 Z"/>
<path stroke="#111" fill="none" stroke-linecap="round" stroke-linejoin="round" stroke-width="1.5" d="M1254.4,422.8 L1278,425.2"/>
<path stroke="#111" stroke-width="1.12" fill="none" stroke-linecap="round" stroke-linejoin="round" d="M1255.2,424.6 L1276.6,425.9"/>
<path stroke="#111" stroke-width="1.12" fill="none" stroke-linecap="round" stroke-linejoin="round" d="M1266.2,457.8 L1266,460.9 M1270,458 L1269.8,461.2 M1277.6,458.5 L1277.4,461.9 M1279.6,458.6 L1279.4,462"/>
<ellipse stroke="#111" fill="none" stroke-linecap="round" stroke-linejoin="round" stroke-width="1.2" cx="1265.5" cy="434.5" rx="4.4" ry="5.9"/>
<circle stroke="#111" fill="none" stroke-linecap="round" stroke-linejoin="round" stroke-width="1.1" cx="1264.6" cy="435.2" r="2.5"/>
<path stroke="#111" stroke-width="1.12" fill="none" stroke-linecap="round" stroke-linejoin="round" d="M1250,413.5 L1254,414"/>
<ellipse stroke="#111" stroke-width="1.1" fill="#fff" cx="1256.4" cy="415.7" rx="1.55" ry="5.7" transform="rotate(9 1256.4 415.7)"/>
<ellipse stroke="#111" stroke-width="1.1" fill="#fff" cx="1259.9" cy="415.8" rx="1.55" ry="5.7" transform="rotate(9 1259.9 415.8)"/>
<ellipse stroke="#111" stroke-width="1.1" fill="#fff" cx="1263.3" cy="415.9" rx="1.55" ry="5.7" transform="rotate(9 1263.3 415.9)"/>
<ellipse stroke="#111" stroke-width="1.1" fill="#fff" cx="1266.8" cy="416.1" rx="1.55" ry="5.7" transform="rotate(9 1266.8 416.1)"/>
<ellipse stroke="#111" stroke-width="1.1" fill="#fff" cx="1270.2" cy="416.2" rx="1.55" ry="5.7" transform="rotate(9 1270.2 416.2)"/>
<ellipse stroke="#111" stroke-width="1.1" fill="#fff" cx="1273.7" cy="416.3" rx="1.55" ry="5.7" transform="rotate(9 1273.7 416.3)"/>
<ellipse stroke="#111" stroke-width="1.1" fill="#fff" cx="1277.1" cy="416.4" rx="1.55" ry="5.7" transform="rotate(9 1277.1 416.4)"/>
<path stroke="#111" stroke-width="1.6" fill="none" d="M1253.6,420.6 L1278.6,421.8"/>
</g>
<g transform="translate(173.6,13.2)">
<path stroke="#111" stroke-width="1.12" fill="#fff" stroke-linecap="round" stroke-linejoin="round" d="M1251,420.5 L1254.25,422.5 L1261,455.5 Q1261.6,457.4 1264,457.5 L1283,458.75 L1283.75,457.5 L1277,425 L1279.25,422.5 L1287,458 Q1287.3,462.4 1283.75,462.5 L1262,460.5 Q1258.6,459.6 1258,456 Z"/>
<path stroke="#111" fill="none" stroke-linecap="round" stroke-linejoin="round" stroke-width="1.5" d="M1254.4,422.8 L1278,425.2"/>
<path stroke="#111" stroke-width="1.12" fill="none" stroke-linecap="round" stroke-linejoin="round" d="M1255.2,424.6 L1276.6,425.9"/>
<path stroke="#111" stroke-width="1.12" fill="none" stroke-linecap="round" stroke-linejoin="round" d="M1266.2,457.8 L1266,460.9 M1270,458 L1269.8,461.2 M1277.6,458.5 L1277.4,461.9 M1279.6,458.6 L1279.4,462"/>
<ellipse stroke="#111" fill="none" stroke-linecap="round" stroke-linejoin="round" stroke-width="1.2" cx="1265.5" cy="434.5" rx="4.4" ry="5.9"/>
<circle stroke="#111" fill="none" stroke-linecap="round" stroke-linejoin="round" stroke-width="1.1" cx="1264.6" cy="435.2" r="2.5"/>
<path stroke="#111" stroke-width="1.12" fill="none" stroke-linecap="round" stroke-linejoin="round" d="M1250,413.5 L1254,414"/>
<ellipse stroke="#111" stroke-width="1.1" fill="#fff" cx="1256.4" cy="415.7" rx="1.55" ry="5.7" transform="rotate(9 1256.4 415.7)"/>
<ellipse stroke="#111" stroke-width="1.1" fill="#fff" cx="1259.9" cy="415.8" rx="1.55" ry="5.7" transform="rotate(9 1259.9 415.8)"/>
<ellipse stroke="#111" stroke-width="1.1" fill="#fff" cx="1263.3" cy="415.9" rx="1.55" ry="5.7" transform="rotate(9 1263.3 415.9)"/>
<ellipse stroke="#111" stroke-width="1.1" fill="#fff" cx="1266.8" cy="416.1" rx="1.55" ry="5.7" transform="rotate(9 1266.8 416.1)"/>
<ellipse stroke="#111" stroke-width="1.1" fill="#fff" cx="1270.2" cy="416.2" rx="1.55" ry="5.7" transform="rotate(9 1270.2 416.2)"/>
<ellipse stroke="#111" stroke-width="1.1" fill="#fff" cx="1273.7" cy="416.3" rx="1.55" ry="5.7" transform="rotate(9 1273.7 416.3)"/>
<ellipse stroke="#111" stroke-width="1.1" fill="#fff" cx="1277.1" cy="416.4" rx="1.55" ry="5.7" transform="rotate(9 1277.1 416.4)"/>
<path stroke="#111" stroke-width="1.6" fill="none" d="M1253.6,420.6 L1278.6,421.8"/>
</g>
</g>
<path stroke="#222" stroke-width="1.15" fill="none" stroke-linecap="butt" stroke-linejoin="miter" d="M1591.6,424.8 V305.5 M1574.1,333.4 L1591.6,305.5 L1608.7,333.4"/>
<path stroke="#222" stroke-width="1.15" fill="none" stroke-linecap="butt" stroke-linejoin="miter" d="M1556.4,359.9 C1545,363 1541,367 1542.2,371 C1545,378 1567,382 1591.6,382 C1618,381.5 1640,376 1640,367.5 C1640,362.5 1630,358.5 1617,356.7 M1629.9,354.6 L1617,356.7 L1623.8,363.6"/>
<!--/P2-->
<!--P3-->
<path stroke="#111" stroke-width="1.25" fill="none" stroke-linecap="round" stroke-linejoin="round" d="M57,829 L217.6,830.6 M567,830.4 L728.2,832.6"/>
<path stroke="#111" stroke-width="1.25" fill="none" stroke-linecap="round" stroke-linejoin="round" d="M236.6,781.4 H588.6 L544.6,880 H199.6 Z M205,866.4 H536 L544.6,880 M536,866.4 L574,781.4"/>
<path stroke="#111" stroke-width="1.25" fill="none" stroke-linecap="round" stroke-linejoin="round" d="M342.0,781.4 C341.2,786.2 338.2,800.9 337.0,810.0 C335.8,819.1 337.8,827.0 335.0,836.0 C332.2,845.0 324.7,856.0 320.0,864.0 C315.3,872.0 309.7,878.3 307.0,884.0 C304.3,889.7 304.1,892.8 303.8,898.0 C303.5,903.2 304.2,909.7 305.0,915.0 C305.8,920.3 307.0,917.5 308.5,930.0 C310.0,942.5 313.1,980.0 314.0,990.0"/>
<path stroke="#111" stroke-width="1.25" fill="none" stroke-linecap="round" stroke-linejoin="round" d="M350.6,781.4 C349.7,786.2 346.5,800.9 345.4,810.0 C344.3,819.1 346.6,827.0 344.0,836.0 C341.4,845.0 334.7,856.0 330.0,864.0 C325.3,872.0 318.9,878.3 316.0,884.0 C313.1,889.7 312.8,892.8 312.4,898.0 C312.0,903.2 312.8,909.7 313.6,915.0 C314.5,920.3 315.9,917.4 317.5,930.0 C319.1,942.6 322.1,980.4 323.0,990.5"/>
<path stroke="#111" stroke-width="1.25" fill="none" stroke-linecap="round" stroke-linejoin="round" d="M464.0,781.4 C461.8,783.8 453.3,790.9 451.0,796.0 C448.7,801.1 449.3,803.7 450.0,812.0 C450.7,820.3 454.1,837.0 455.0,846.0 C455.9,855.0 457.1,857.0 455.6,866.0 C454.1,875.0 448.4,891.0 446.0,900.0 C443.6,909.0 444.1,909.2 441.3,920.0 C438.6,930.8 431.3,951.2 429.5,965.0 C427.7,978.8 430.3,996.7 430.5,1003.0"/>
<path stroke="#111" stroke-width="1.25" fill="none" stroke-linecap="round" stroke-linejoin="round" d="M472.4,781.4 C470.3,783.8 461.9,790.9 459.6,796.0 C457.3,801.1 457.5,803.7 458.4,812.0 C459.3,820.3 464.1,837.0 465.0,846.0 C465.9,855.0 465.6,857.0 464.0,866.0 C462.4,875.0 457.8,891.0 455.4,900.0 C452.9,909.0 452.3,909.2 449.3,920.0 C446.3,930.8 439.3,951.2 437.5,965.0 C435.7,978.8 438.4,996.2 438.6,1002.5"/>
<g id="p3-units">
<g transform="translate(0,0)">
<path stroke="#111" stroke-width="1.25" fill="#fff" stroke-linecap="round" stroke-linejoin="round" d="M167.49999999999997,1042 V1007.7 A89.9,23.6 0 0 1 347.29999999999995,1007.7 V1042"/>
<path stroke="#111" fill="none" stroke-linecap="round" stroke-linejoin="round" stroke-width="0.9" d="M167.49999999999997,1007.7 A89.9,20.4 0 0 1 347.29999999999995,1007.7"/>
<path stroke="#111" stroke-width="1.25" fill="#fff" stroke-linecap="round" stroke-linejoin="round" d="M155.39999999999998,1075 V1047 A101.5,25 0 0 1 358.4,1047 V1075"/>
<ellipse stroke="#111" fill="none" stroke-linecap="round" stroke-linejoin="round" stroke-width="1.15" cx="283" cy="1048" rx="5.3" ry="6.6"/>
<circle stroke="#111" fill="none" stroke-linecap="round" stroke-linejoin="round" stroke-width="1.1" cx="281.8" cy="1047.6" r="3.3"/>
<path stroke="#111" fill="none" stroke-linecap="round" stroke-linejoin="round" stroke-width="0.9" d="M281.2,1045.4 A2.2,2.2 0 0 1 283.6,1048.8"/>
</g>
<g transform="translate(0,0)">
<path stroke="#111" stroke-width="1.25" fill="#fff" stroke-linecap="round" stroke-linejoin="round" d="M265.5,991.5 L267,948 Q267.4,942 273,941.5 L299,943 Q304.4,943.6 304.5,949.5 L303,992.5 L298.5,992.5 L300,950.5 Q300,947.4 298,947 L274.5,946 Q272.2,946.2 272,949.5 L270.5,991.5 Z"/>
<path stroke="#111" fill="none" stroke-linecap="round" stroke-linejoin="round" stroke-width="0.9" d="M275.2,942 V946 M280.2,942.2 V946.2 M293,943 V946.8 M297.6,943.2 V947"/>
<path stroke="#111" fill="#fff" stroke-linecap="round" stroke-linejoin="round" stroke-width="0.95" d="M266.3,991.5 L264.6,1022 L267.4,1022 L269.3,991.5"/>
<path stroke="#111" fill="#fff" stroke-linecap="round" stroke-linejoin="round" stroke-width="0.95" d="M298.9,992.5 L298.3,1016.4 Q299.4,1018 300.8,1016.4 L301.4,992.5"/>
<ellipse stroke="#111" stroke-width="1.15" fill="#fff" cx="272.4" cy="1025.2" rx="1.75" ry="7.4" transform="rotate(9 272.4 1025.2)"/>
<ellipse stroke="#111" stroke-width="1.15" fill="#fff" cx="276.7" cy="1025.7" rx="1.75" ry="7.4" transform="rotate(9 276.7 1025.7)"/>
<ellipse stroke="#111" stroke-width="1.15" fill="#fff" cx="281.1" cy="1026.2" rx="1.75" ry="7.4" transform="rotate(9 281.1 1026.2)"/>
<ellipse stroke="#111" stroke-width="1.15" fill="#fff" cx="285.4" cy="1026.7" rx="1.75" ry="7.4" transform="rotate(9 285.4 1026.7)"/>
<ellipse stroke="#111" stroke-width="1.15" fill="#fff" cx="289.7" cy="1027.3" rx="1.75" ry="7.4" transform="rotate(9 289.7 1027.3)"/>
<ellipse stroke="#111" stroke-width="1.15" fill="#fff" cx="294.1" cy="1027.8" rx="1.75" ry="7.4" transform="rotate(9 294.1 1027.8)"/>
<ellipse stroke="#111" stroke-width="1.15" fill="#fff" cx="298.4" cy="1028.3" rx="1.75" ry="7.4" transform="rotate(9 298.4 1028.3)"/>
<path stroke="#111" stroke-width="3" fill="none" d="M266.6,1033.4 L300.6,1037.0"/>
<path stroke="#111" stroke-width="1.3" fill="none" d="M266.90000000000003,1034.4 V1028.4 H270.6"/>
</g>
<g transform="translate(226.3,15.5)">
<path stroke="#111" stroke-width="1.25" fill="#fff" stroke-linecap="round" stroke-linejoin="round" d="M167.49999999999997,1042 V1007.7 A89.9,23.6 0 0 1 347.29999999999995,1007.7 V1042"/>
<path stroke="#111" fill="none" stroke-linecap="round" stroke-linejoin="round" stroke-width="0.9" d="M167.49999999999997,1007.7 A89.9,20.4 0 0 1 347.29999999999995,1007.7"/>
<path stroke="#111" stroke-width="1.25" fill="#fff" stroke-linecap="round" stroke-linejoin="round" d="M155.39999999999998,1075 V1047 A101.5,25 0 0 1 358.4,1047 V1075"/>
<ellipse stroke="#111" fill="none" stroke-linecap="round" stroke-linejoin="round" stroke-width="1.15" cx="283" cy="1048" rx="5.3" ry="6.6"/>
<circle stroke="#111" fill="none" stroke-linecap="round" stroke-linejoin="round" stroke-width="1.1" cx="281.8" cy="1047.6" r="3.3"/>
<path stroke="#111" fill="none" stroke-linecap="round" stroke-linejoin="round" stroke-width="0.9" d="M281.2,1045.4 A2.2,2.2 0 0 1 283.6,1048.8"/>
</g>
<g transform="translate(226.7,15.8)">
<path stroke="#111" stroke-width="1.25" fill="#fff" stroke-linecap="round" stroke-linejoin="round" d="M265.5,991.5 L267,948 Q267.4,942 273,941.5 L299,943 Q304.4,943.6 304.5,949.5 L303,992.5 L298.5,992.5 L300,950.5 Q300,947.4 298,947 L274.5,946 Q272.2,946.2 272,949.5 L270.5,991.5 Z"/>
<path stroke="#111" fill="none" stroke-linecap="round" stroke-linejoin="round" stroke-width="0.9" d="M275.2,942 V946 M280.2,942.2 V946.2 M293,943 V946.8 M297.6,943.2 V947"/>
<path stroke="#111" fill="#fff" stroke-linecap="round" stroke-linejoin="round" stroke-width="0.95" d="M266.3,991.5 L265.6,1014.4 Q266.8,1016 268.2,1014.4 L269.3,991.5"/>
<path stroke="#111" fill="#fff" stroke-linecap="round" stroke-linejoin="round" stroke-width="0.95" d="M298.9,992.5 L297.9,1024 L300.5,1024 L301.6,992.5"/>
<ellipse stroke="#111" stroke-width="1.15" fill="#fff" cx="272.4" cy="1025.2" rx="1.75" ry="7.4" transform="rotate(9 272.4 1025.2)"/>
<ellipse stroke="#111" stroke-width="1.15" fill="#fff" cx="276.7" cy="1025.7" rx="1.75" ry="7.4" transform="rotate(9 276.7 1025.7)"/>
<ellipse stroke="#111" stroke-width="1.15" fill="#fff" cx="281.1" cy="1026.2" rx="1.75" ry="7.4" transform="rotate(9 281.1 1026.2)"/>
<ellipse stroke="#111" stroke-width="1.15" fill="#fff" cx="285.4" cy="1026.7" rx="1.75" ry="7.4" transform="rotate(9 285.4 1026.7)"/>
<ellipse stroke="#111" stroke-width="1.15" fill="#fff" cx="289.7" cy="1027.3" rx="1.75" ry="7.4" transform="rotate(9 289.7 1027.3)"/>
<ellipse stroke="#111" stroke-width="1.15" fill="#fff" cx="294.1" cy="1027.8" rx="1.75" ry="7.4" transform="rotate(9 294.1 1027.8)"/>
<ellipse stroke="#111" stroke-width="1.15" fill="#fff" cx="298.4" cy="1028.3" rx="1.75" ry="7.4" transform="rotate(9 298.4 1028.3)"/>
<path stroke="#111" stroke-width="3" fill="none" d="M266.6,1033.4 L300.6,1037.0"/>
<path stroke="#111" stroke-width="1.3" fill="none" d="M300.40000000000003,1038.0 V1031.5"/>
</g>
</g>
<g id="p3-plate">
<path stroke="#111" stroke-width="1.25" fill="#fff" stroke-linecap="round" stroke-linejoin="round" d="M174.3,1052.4 L626.4,1083.4 Q627.6,1083.8 627.3,1087.2 L567.1,1147.1 L113.4,1115.6 L113.2,1111.9 Z"/>
<path stroke="#111" stroke-width="1.25" fill="none" stroke-linecap="round" stroke-linejoin="round" d="M114.8,1115 L174.3,1057.5 L625.8,1088.4 M174.3,1052.4 V1057.5"/>
<g transform="translate(0,0)">
<ellipse stroke="#111" stroke-width="1.25" fill="#fff" stroke-linecap="round" stroke-linejoin="round" cx="257" cy="1094" rx="105.1" ry="27.5"/>
<path stroke="#111" stroke-width="1.25" fill="none" stroke-linecap="round" stroke-linejoin="round" d="M167.9,1079.4 A92.9,23.5 0 1 0 346.4,1079.6"/>
<path stroke="#111" fill="none" stroke-linecap="round" stroke-linejoin="round" stroke-width="2.1" d="M178,1098.3 A92.9,23.5 0 0 0 336.2,1098.3"/>
<path stroke="#111" fill="none" stroke-linecap="round" stroke-linejoin="round" stroke-width="0.9" d="M171.9,1077.9 A91,22.6 0 1 0 342.5,1078.0"/>
<path stroke="#111" stroke-width="1.25" fill="none" stroke-linecap="round" stroke-linejoin="round" d="M176.0,1077.7 A87.6,20.5 0 1 0 338.4,1077.7"/>
<ellipse stroke="#111" stroke-width="1.25" fill="none" stroke-linecap="round" stroke-linejoin="round" cx="256.7" cy="1083.1" rx="71" ry="15.6"/>
<path stroke="#111" fill="none" stroke-linecap="round" stroke-linejoin="round" stroke-width="0.9" d="M187.5,1088 A71,15.6 0 0 0 326,1088"/>
</g>
<g transform="translate(226.4,15.3)">
<ellipse stroke="#111" stroke-width="1.25" fill="#fff" stroke-linecap="round" stroke-linejoin="round" cx="257" cy="1094" rx="105.1" ry="27.5"/>
<path stroke="#111" stroke-width="1.25" fill="none" stroke-linecap="round" stroke-linejoin="round" d="M167.9,1079.4 A92.9,23.5 0 1 0 346.4,1079.6"/>
<path stroke="#111" fill="none" stroke-linecap="round" stroke-linejoin="round" stroke-width="2.1" d="M178,1098.3 A92.9,23.5 0 0 0 336.2,1098.3"/>
<path stroke="#111" fill="none" stroke-linecap="round" stroke-linejoin="round" stroke-width="0.9" d="M171.9,1077.9 A91,22.6 0 1 0 342.5,1078.0"/>
<path stroke="#111" stroke-width="1.25" fill="none" stroke-linecap="round" stroke-linejoin="round" d="M176.0,1077.7 A87.6,20.5 0 1 0 338.4,1077.7"/>
<ellipse stroke="#111" stroke-width="1.25" fill="none" stroke-linecap="round" stroke-linejoin="round" cx="256.7" cy="1083.1" rx="71" ry="15.6"/>
<path stroke="#111" fill="none" stroke-linecap="round" stroke-linejoin="round" stroke-width="0.9" d="M187.5,1088 A71,15.6 0 0 0 326,1088"/>
</g>
</g>
<path stroke="#222" stroke-width="1.5" fill="none" stroke-linecap="butt" stroke-linejoin="miter" d="M676,1137.4 V1007.4 M657.1,1038.6 L676,1007.4 L694.9,1038.6"/>
<!--/P3-->
<!--P4-->
<path stroke="#151515" stroke-width="1.45" fill="none" stroke-linecap="butt" stroke-linejoin="miter" d="M821.8,763.1 V900.7 M814.1,763.1 H988.3 M814.1,900.7 H868.7 M815.4,757.4 L828.2,768.9 M815.4,894.9 L828.2,906.5"/>
<text transform="translate(814.65,877.6) rotate(-90)" class="dim" y="0"><tspan font-family="Liberation Sans,sans-serif" font-size="32.4" x="-0.81" textLength="39.05" lengthAdjust="spacingAndGlyphs">46</tspan><tspan font-family="Liberation Sans,sans-serif" font-size="28.8" x="40.15" textLength="42.58" lengthAdjust="spacingAndGlyphs">мм</tspan></text>
<path stroke="#151515" stroke-width="1.45" fill="none" stroke-linecap="butt" stroke-linejoin="miter" d="M875.2,900.7 V876.7 H967.7 V900.7"/>
<path stroke="#151515" stroke-width="1.45" fill="none" stroke-linecap="butt" stroke-linejoin="miter" d="M875.8,900.7 L899.3,876.7 M897.2,900.7 L920.7,876.7 M918.4,900.7 L941.9,876.7 M939.6,900.7 L963.1,876.7 M960.6,900.7 L967.7,893.5 "/>
<path stroke="#151515" stroke-width="1.45" fill="none" stroke-linecap="butt" stroke-linejoin="miter" d="M1616.1,900.7 V876.7 H1715.7 V900.7"/>
<path stroke="#151515" stroke-width="1.45" fill="none" stroke-linecap="butt" stroke-linejoin="miter" d="M1627.6,900.7 L1651.1,876.7 M1648.0,900.7 L1671.5,876.7 M1668.5,900.7 L1692.0,876.7 M1689.0,900.7 L1712.5,876.7 M1709.4,900.7 L1715.7,894.3 "/>
<path stroke="#151515" stroke-width="1.45" fill="none" stroke-linecap="butt" stroke-linejoin="miter" d="M875.2,900.9 H1715.7 M951.7,900.9 V908.3 H1632.7 V900.9"/>
<text y="912.2"><tspan font-family="Liberation Sans,sans-serif" font-size="11.2" x="921.41" textLength="6.47" lengthAdjust="spacingAndGlyphs">2</tspan><tspan font-family="Liberation Sans,sans-serif" font-size="9.5" x="928.2" textLength="15.79" lengthAdjust="spacingAndGlyphs">мм</tspan></text>
<g transform="translate(0,0)">
<path stroke="#151515" stroke-width="1.45" fill="none" stroke-linecap="butt" stroke-linejoin="miter" d="M994.6,815.6 V763 H1249.4 V815.6"/>
<path stroke="#151515" stroke-width="1.45" fill="none" stroke-linecap="butt" stroke-linejoin="miter" d="M976,901 L982.7,885.4 V815.6 H1261.7 V885.4 L1267.9,901 M982.7,885.4 H1261.7"/>
</g>
<g transform="translate(340.6,0)">
<path stroke="#151515" stroke-width="1.45" fill="none" stroke-linecap="butt" stroke-linejoin="miter" d="M994.6,815.6 V763 H1249.4 V815.6"/>
<path stroke="#151515" stroke-width="1.45" fill="none" stroke-linecap="butt" stroke-linejoin="miter" d="M976,901 L982.7,885.4 V815.6 H1261.7 V885.4 L1267.9,901 M982.7,885.4 H1261.7"/>
</g>
<g transform="translate(0,0)">
<path stroke="#151515" fill="none" stroke-linecap="butt" stroke-linejoin="miter" stroke-width="0.95" d="M1099.6,862 V831.8 H1146 M1099.6,834.3 H1144.5 V862"/>
<path stroke="#151515" fill="none" stroke-linecap="butt" stroke-linejoin="miter" stroke-width="1" d="M1095.5,825 V862.5 M1098.5,831 V862.5"/>
<path stroke="#151515" fill="none" stroke-linecap="butt" stroke-linejoin="miter" stroke-width="1" d="M1145.6,834 V862.5 M1149,862.5 V834 Q1149,832 1147.4,831.6 M1147.2,828.2 A1.4,1.4 0 1 1 1147.2,831"/>
<path stroke="#151515" stroke-width="1.45" fill="#fff" stroke-linecap="butt" stroke-linejoin="round" d="M1094,862.5 H1100.5 V918 Q1100.6,922.5 1104.5,922.5 H1139.8 Q1144,922.5 1144,918 V862.5 H1150 V919 Q1150,929 1141,929 H1103 Q1094,929 1094,919 Z"/>
<path stroke="#151515" fill="none" stroke-linecap="butt" stroke-linejoin="miter" stroke-width="1" d="M1104.2,922.5 V929 M1112.5,922.5 V929 M1131.5,922.5 V929 M1140,922.5 V929 M1112.5,924.6 H1131.5 M1112.5,927.4 H1131.5 M1094.5,919 L1100.4,918.4 M1149.6,919 L1144,918.4"/>
<circle stroke="#151515" fill="none" stroke-linecap="butt" stroke-linejoin="miter" stroke-width="1.2" cx="1122" cy="852.6" r="7.2"/>
<ellipse stroke="#151515" stroke-width="1.2" fill="#fff" cx="1104.4" cy="820.4" rx="2.55" ry="10.6" transform="rotate(7 1104.4 820.4)"/>
<path stroke="#151515" stroke-width="0.9" fill="none" d="M1103.5,828 L1105.1,815"/>
<ellipse stroke="#151515" stroke-width="1.2" fill="#fff" cx="1111.0" cy="820.4" rx="2.55" ry="10.6" transform="rotate(7 1111.0 820.4)"/>
<path stroke="#151515" stroke-width="0.9" fill="none" d="M1110.1,828 L1111.7,815"/>
<ellipse stroke="#151515" stroke-width="1.2" fill="#fff" cx="1117.6" cy="820.4" rx="2.55" ry="10.6" transform="rotate(7 1117.6 820.4)"/>
<path stroke="#151515" stroke-width="0.9" fill="none" d="M1116.7,828 L1118.3,815"/>
<ellipse stroke="#151515" stroke-width="1.2" fill="#fff" cx="1124.2" cy="820.4" rx="2.55" ry="10.6" transform="rotate(7 1124.2 820.4)"/>
<path stroke="#151515" stroke-width="0.9" fill="none" d="M1123.3,828 L1124.9,815"/>
<ellipse stroke="#151515" stroke-width="1.2" fill="#fff" cx="1130.8" cy="820.4" rx="2.55" ry="10.6" transform="rotate(7 1130.8 820.4)"/>
<path stroke="#151515" stroke-width="0.9" fill="none" d="M1129.9,828 L1131.5,815"/>
<ellipse stroke="#151515" stroke-width="1.2" fill="#fff" cx="1137.4" cy="820.4" rx="2.55" ry="10.6" transform="rotate(7 1137.4 820.4)"/>
<path stroke="#151515" stroke-width="0.9" fill="none" d="M1136.5,828 L1138.1,815"/>
<ellipse stroke="#151515" stroke-width="1.2" fill="#fff" cx="1144.0" cy="820.4" rx="2.55" ry="10.6" transform="rotate(7 1144.0 820.4)"/>
<path stroke="#151515" stroke-width="0.9" fill="none" d="M1143.1,828 L1144.7,815"/>
</g>
<g transform="translate(2584.2,0) scale(-1,1)">
<path stroke="#151515" fill="none" stroke-linecap="butt" stroke-linejoin="miter" stroke-width="0.95" d="M1099.6,862 V831.8 H1146 M1099.6,834.3 H1144.5 V862"/>
<path stroke="#151515" fill="none" stroke-linecap="butt" stroke-linejoin="miter" stroke-width="1" d="M1095.5,825 V862.5 M1098.5,831 V862.5"/>
<path stroke="#151515" fill="none" stroke-linecap="butt" stroke-linejoin="miter" stroke-width="1" d="M1145.6,834 V862.5 M1149,862.5 V834 Q1149,832 1147.4,831.6 M1147.2,828.2 A1.4,1.4 0 1 1 1147.2,831"/>
<path stroke="#151515" stroke-width="1.45" fill="#fff" stroke-linecap="butt" stroke-linejoin="round" d="M1094,862.5 H1100.5 V918 Q1100.6,922.5 1104.5,922.5 H1139.8 Q1144,922.5 1144,918 V862.5 H1150 V919 Q1150,929 1141,929 H1103 Q1094,929 1094,919 Z"/>
<path stroke="#151515" fill="none" stroke-linecap="butt" stroke-linejoin="miter" stroke-width="1" d="M1104.2,922.5 V929 M1112.5,922.5 V929 M1131.5,922.5 V929 M1140,922.5 V929 M1112.5,924.6 H1131.5 M1112.5,927.4 H1131.5 M1094.5,919 L1100.4,918.4 M1149.6,919 L1144,918.4"/>
<circle stroke="#151515" fill="none" stroke-linecap="butt" stroke-linejoin="miter" stroke-width="1.2" cx="1122" cy="852.6" r="7.2"/>
<ellipse stroke="#151515" stroke-width="1.2" fill="#fff" cx="1104.4" cy="820.4" rx="2.55" ry="10.6" transform="rotate(7 1104.4 820.4)"/>
<path stroke="#151515" stroke-width="0.9" fill="none" d="M1103.5,828 L1105.1,815"/>
<ellipse stroke="#151515" stroke-width="1.2" fill="#fff" cx="1111.0" cy="820.4" rx="2.55" ry="10.6" transform="rotate(7 1111.0 820.4)"/>
<path stroke="#151515" stroke-width="0.9" fill="none" d="M1110.1,828 L1111.7,815"/>
<ellipse stroke="#151515" stroke-width="1.2" fill="#fff" cx="1117.6" cy="820.4" rx="2.55" ry="10.6" transform="rotate(7 1117.6 820.4)"/>
<path stroke="#151515" stroke-width="0.9" fill="none" d="M1116.7,828 L1118.3,815"/>
<ellipse stroke="#151515" stroke-width="1.2" fill="#fff" cx="1124.2" cy="820.4" rx="2.55" ry="10.6" transform="rotate(7 1124.2 820.4)"/>
<path stroke="#151515" stroke-width="0.9" fill="none" d="M1123.3,828 L1124.9,815"/>
<ellipse stroke="#151515" stroke-width="1.2" fill="#fff" cx="1130.8" cy="820.4" rx="2.55" ry="10.6" transform="rotate(7 1130.8 820.4)"/>
<path stroke="#151515" stroke-width="0.9" fill="none" d="M1129.9,828 L1131.5,815"/>
<ellipse stroke="#151515" stroke-width="1.2" fill="#fff" cx="1137.4" cy="820.4" rx="2.55" ry="10.6" transform="rotate(7 1137.4 820.4)"/>
<path stroke="#151515" stroke-width="0.9" fill="none" d="M1136.5,828 L1138.1,815"/>
<ellipse stroke="#151515" stroke-width="1.2" fill="#fff" cx="1144.0" cy="820.4" rx="2.55" ry="10.6" transform="rotate(7 1144.0 820.4)"/>
<path stroke="#151515" stroke-width="0.9" fill="none" d="M1143.1,828 L1144.7,815"/>
</g>
<path stroke="#151515" stroke-width="1.45" fill="none" stroke-linecap="butt" stroke-linejoin="miter" d="M951.7,914.9 V1007.2 M1632.7,916.3 V1007 M951.7,1000 H1632.7 M946.1,1005.4 L957.8,993.9 M1626.3,1005.8 L1637.8,994.3"/>
<text class="dim" y="993.8"><tspan font-family="Liberation Sans,sans-serif" font-size="32.3" x="1209.7" textLength="59.7" lengthAdjust="spacingAndGlyphs">220</tspan><tspan font-family="Liberation Sans,sans-serif" font-size="28.2" x="1270.15" textLength="15.69" lengthAdjust="spacingAndGlyphs">х</tspan><tspan font-family="Liberation Sans,sans-serif" font-size="32.3" x="1286.92" textLength="45.65" lengthAdjust="spacingAndGlyphs">110</tspan><tspan font-family="Liberation Sans,sans-serif" font-size="28.4" x="1334.34" textLength="42.8" lengthAdjust="spacingAndGlyphs">мм</tspan></text>
<g id="p4-breaker" transform="translate(1245.7,1092.3) scale(1.031,1.034)">
<path stroke="#8c8c8c" stroke-width="0.75" fill="none" stroke-linecap="round" stroke-linejoin="round" d="M202,75.7 L199.3,75.7 L188.3,79.3 L188.3,142.8 L189.4,143.6 L189.4,147.2 Q189.6,148.4 191,148.4 L203.3,148.4"/>
<path stroke="#8c8c8c" stroke-width="0.75" fill="none" stroke-linecap="round" stroke-linejoin="round" d="M173.3,97.2 H188.3 M173.3,127.5 H188.3 M330.7,97.2 H344 M330.4,128 H344"/>
<path stroke="#8c8c8c" stroke-width="0.75" fill="none" stroke-linecap="round" stroke-linejoin="round" d="M202,75.7 L321.5,77.2 Q325.7,77.4 325.7,81.5 L325.7,91.3 M202,75.7 V91.3 H330"/>
<path stroke="#999" stroke-width="0.55" fill="none" stroke-linecap="round" stroke-linejoin="round" d="M216.3,76.0 V91.3 M217.8,76.0 V91.3"/>
<path stroke="#999" stroke-width="0.55" fill="none" stroke-linecap="round" stroke-linejoin="round" d="M230.3,76.2 V91.3 M231.8,76.2 V91.3"/>
<path stroke="#999" stroke-width="0.55" fill="none" stroke-linecap="round" stroke-linejoin="round" d="M244.60000000000002,76.4 V91.3 M246.10000000000002,76.4 V91.3"/>
<path stroke="#999" stroke-width="0.55" fill="none" stroke-linecap="round" stroke-linejoin="round" d="M258.3,76.6 V91.3 M259.8,76.6 V91.3"/>
<path stroke="#999" stroke-width="0.55" fill="none" stroke-linecap="round" stroke-linejoin="round" d="M272.0,76.8 V91.3 M273.5,76.8 V91.3"/>
<path stroke="#999" stroke-width="0.55" fill="none" stroke-linecap="round" stroke-linejoin="round" d="M285.2,76.9 V91.3 M286.7,76.9 V91.3"/>
<path stroke="#999" stroke-width="0.55" fill="none" stroke-linecap="round" stroke-linejoin="round" d="M298.6,77.1 V91.3 M300.1,77.1 V91.3"/>
<path stroke="#999" stroke-width="0.55" fill="none" stroke-linecap="round" stroke-linejoin="round" d="M311.6,77.3 V91.3 M313.1,77.3 V91.3"/>
<circle stroke="#8c8c8c" stroke-width="0.75" fill="none" stroke-linecap="round" stroke-linejoin="round" cx="209" cy="81" r="3.6"/>
<path stroke="#555" stroke-width="0.8" fill="none" d="M206.8,81 H208.2 M209.8,81 H211.2 M209,78.7 V80.2 M209,81.8 V83.6"/>
<circle stroke="#8c8c8c" stroke-width="0.75" fill="none" stroke-linecap="round" stroke-linejoin="round" cx="224" cy="81.3" r="3.6"/>
<path stroke="#555" stroke-width="0.8" fill="none" d="M221.8,81.3 H223.2 M224.8,81.3 H226.2 M224,79.0 V80.5 M224,82.1 V83.89999999999999"/>
<circle stroke="#8c8c8c" stroke-width="0.75" fill="none" stroke-linecap="round" stroke-linejoin="round" cx="238.3" cy="81.5" r="3.6"/>
<path stroke="#555" stroke-width="0.8" fill="none" d="M236.10000000000002,81.5 H237.5 M239.10000000000002,81.5 H240.5 M238.3,79.2 V80.7 M238.3,82.3 V84.1"/>
<circle stroke="#8c8c8c" stroke-width="0.75" fill="none" stroke-linecap="round" stroke-linejoin="round" cx="251.7" cy="82" r="3.6"/>
<path stroke="#555" stroke-width="0.8" fill="none" d="M249.5,82 H250.89999999999998 M252.5,82 H253.89999999999998 M251.7,79.7 V81.2 M251.7,82.8 V84.6"/>
<circle stroke="#8c8c8c" stroke-width="0.75" fill="none" stroke-linecap="round" stroke-linejoin="round" cx="265.5" cy="82.4" r="3.6"/>
<path stroke="#555" stroke-width="0.8" fill="none" d="M263.3,82.4 H264.7 M266.3,82.4 H267.7 M265.5,80.10000000000001 V81.60000000000001 M265.5,83.2 V85.0"/>
<circle stroke="#8c8c8c" stroke-width="0.75" fill="none" stroke-linecap="round" stroke-linejoin="round" cx="279.2" cy="82.4" r="3.6"/>
<path stroke="#555" stroke-width="0.8" fill="none" d="M277.0,82.4 H278.4 M280.0,82.4 H281.4 M279.2,80.10000000000001 V81.60000000000001 M279.2,83.2 V85.0"/>
<circle stroke="#8c8c8c" stroke-width="0.75" fill="none" stroke-linecap="round" stroke-linejoin="round" cx="293" cy="83" r="3.6"/>
<path stroke="#555" stroke-width="0.8" fill="none" d="M290.8,83 H292.2 M293.8,83 H295.2 M293,80.7 V82.2 M293,83.8 V85.6"/>
<circle stroke="#8c8c8c" stroke-width="0.75" fill="none" stroke-linecap="round" stroke-linejoin="round" cx="305.4" cy="83.3" r="3.6"/>
<path stroke="#555" stroke-width="0.8" fill="none" d="M303.2,83.3 H304.59999999999997 M306.2,83.3 H307.59999999999997 M305.4,81.0 V82.5 M305.4,84.1 V85.89999999999999"/>
<circle stroke="#8c8c8c" stroke-width="0.75" fill="none" stroke-linecap="round" stroke-linejoin="round" cx="318.3" cy="83.7" r="3.6"/>
<path stroke="#555" stroke-width="0.8" fill="none" d="M316.1,83.7 H317.5 M319.1,83.7 H320.5 M318.3,81.4 V82.9 M318.3,84.5 V86.3"/>
<circle stroke="#8c8c8c" stroke-width="0.75" fill="none" stroke-linecap="round" stroke-linejoin="round" cx="210" cy="141.3" r="3.6"/>
<path stroke="#555" stroke-width="0.8" fill="none" d="M207.8,141.3 H209.2 M210.8,141.3 H212.2 M210,139.0 V140.5 M210,142.10000000000002 V143.9"/>
<circle stroke="#8c8c8c" stroke-width="0.75" fill="none" stroke-linecap="round" stroke-linejoin="round" cx="225" cy="141.7" r="3.6"/>
<path stroke="#555" stroke-width="0.8" fill="none" d="M222.8,141.7 H224.2 M225.8,141.7 H227.2 M225,139.39999999999998 V140.89999999999998 M225,142.5 V144.29999999999998"/>
<circle stroke="#8c8c8c" stroke-width="0.75" fill="none" stroke-linecap="round" stroke-linejoin="round" cx="239.3" cy="140.7" r="3.6"/>
<path stroke="#555" stroke-width="0.8" fill="none" d="M237.10000000000002,140.7 H238.5 M240.10000000000002,140.7 H241.5 M239.3,138.39999999999998 V139.89999999999998 M239.3,141.5 V143.29999999999998"/>
<circle stroke="#8c8c8c" stroke-width="0.75" fill="none" stroke-linecap="round" stroke-linejoin="round" cx="253" cy="140" r="3.6"/>
<path stroke="#555" stroke-width="0.8" fill="none" d="M250.8,140 H252.2 M253.8,140 H255.2 M253,137.7 V139.2 M253,140.8 V142.6"/>
<circle stroke="#8c8c8c" stroke-width="0.75" fill="none" stroke-linecap="round" stroke-linejoin="round" cx="266.3" cy="139.8" r="3.6"/>
<path stroke="#555" stroke-width="0.8" fill="none" d="M264.1,139.8 H265.5 M267.1,139.8 H268.5 M266.3,137.5 V139.0 M266.3,140.60000000000002 V142.4"/>
<circle stroke="#8c8c8c" stroke-width="0.75" fill="none" stroke-linecap="round" stroke-linejoin="round" cx="307" cy="139" r="3.6"/>
<path stroke="#555" stroke-width="0.8" fill="none" d="M304.8,139 H306.2 M307.8,139 H309.2 M307,136.7 V138.2 M307,139.8 V141.6"/>
<circle stroke="#8c8c8c" stroke-width="0.75" fill="none" stroke-linecap="round" stroke-linejoin="round" cx="319.7" cy="138.4" r="3.6"/>
<path stroke="#555" stroke-width="0.8" fill="none" d="M317.5,138.4 H318.9 M320.5,138.4 H321.9 M319.7,136.1 V137.6 M319.7,139.20000000000002 V141.0"/>
<path stroke="#8c8c8c" stroke-width="0.75" fill="none" stroke-linecap="round" stroke-linejoin="round" d="M206.3,91.3 V131 M330,91.3 V99.7 H337.7 V126 H331 M330,126.3 V128"/>
<path stroke="#999" stroke-width="0.55" fill="none" stroke-linecap="round" stroke-linejoin="round" d="M220.70000000000002,91.3 V101 M222.10000000000002,91.3 V101"/>
<path stroke="#999" stroke-width="0.55" fill="none" stroke-linecap="round" stroke-linejoin="round" d="M236.1,91.3 V101 M237.5,91.3 V101"/>
<path stroke="#999" stroke-width="0.55" fill="none" stroke-linecap="round" stroke-linejoin="round" d="M249.70000000000002,91.3 V101 M251.10000000000002,91.3 V101"/>
<path stroke="#999" stroke-width="0.55" fill="none" stroke-linecap="round" stroke-linejoin="round" d="M263.9,91.3 V101 M265.3,91.3 V101"/>
<path stroke="#999" stroke-width="0.55" fill="none" stroke-linecap="round" stroke-linejoin="round" d="M277.4,91.3 V101 M278.8,91.3 V101"/>
<path stroke="#999" stroke-width="0.55" fill="none" stroke-linecap="round" stroke-linejoin="round" d="M291.09999999999997,91.3 V101 M292.5,91.3 V101"/>
<path stroke="#999" stroke-width="0.55" fill="none" stroke-linecap="round" stroke-linejoin="round" d="M304.4,91.3 V101 M305.8,91.3 V101"/>
<path stroke="#999" stroke-width="0.55" fill="none" stroke-linecap="round" stroke-linejoin="round" d="M318.09999999999997,91.3 V101 M319.5,91.3 V101"/>
<path stroke="#8c8c8c" stroke-width="0.75" fill="none" stroke-linecap="round" stroke-linejoin="round" d="M207.6,91.3 V101"/>
<path stroke="#8c8c8c" stroke-width="0.75" fill="none" stroke-linecap="round" stroke-linejoin="round" d="M206.3,116.3 H330 M206.3,129.6 L262,129.2 L300,128.6 L330,128.2"/>
<rect stroke="#8c8c8c" stroke-width="0.75" fill="none" stroke-linecap="round" stroke-linejoin="round" x="211" y="122.8" width="5.7" height="3.8" rx="1.4"/>
<rect stroke="#8c8c8c" stroke-width="0.75" fill="none" stroke-linecap="round" stroke-linejoin="round" x="226" y="122.8" width="6.3" height="3.8" rx="1.4"/>
<rect stroke="#8c8c8c" stroke-width="0.75" fill="none" stroke-linecap="round" stroke-linejoin="round" x="240.3" y="122.8" width="6.4" height="3.8" rx="1.4"/>
<rect stroke="#8c8c8c" stroke-width="0.75" fill="none" stroke-linecap="round" stroke-linejoin="round" x="254.3" y="122.6" width="6.4" height="3.8" rx="1.4"/>
<rect stroke="#8c8c8c" stroke-width="0.75" fill="none" stroke-linecap="round" stroke-linejoin="round" x="269.3" y="122" width="6.0" height="3.8" rx="1.4"/>
<rect stroke="#8c8c8c" stroke-width="0.75" fill="none" stroke-linecap="round" stroke-linejoin="round" x="296.3" y="121.8" width="5.7" height="3.8" rx="1.4"/>
<rect stroke="#8c8c8c" stroke-width="0.75" fill="none" stroke-linecap="round" stroke-linejoin="round" x="309.3" y="121.6" width="6.0" height="3.8" rx="1.4"/>
<path stroke="#8c8c8c" stroke-width="0.75" fill="none" stroke-linecap="round" stroke-linejoin="round" d="M203.3,148.4 V131.4 L206.3,131 L290,129.8"/>
<path stroke="#999" stroke-width="0.55" fill="none" stroke-linecap="round" stroke-linejoin="round" d="M217.0,131 V148.2 M218.5,131 V148.2"/>
<path stroke="#999" stroke-width="0.55" fill="none" stroke-linecap="round" stroke-linejoin="round" d="M231.60000000000002,131 V148.2 M233.10000000000002,131 V148.2"/>
<path stroke="#999" stroke-width="0.55" fill="none" stroke-linecap="round" stroke-linejoin="round" d="M246.0,131 V148.2 M247.5,131 V148.2"/>
<path stroke="#999" stroke-width="0.55" fill="none" stroke-linecap="round" stroke-linejoin="round" d="M259.6,131 V148.2 M261.1,131 V148.2"/>
<path stroke="#999" stroke-width="0.55" fill="none" stroke-linecap="round" stroke-linejoin="round" d="M273.6,131 V148.2 M275.1,131 V148.2"/>
<path stroke="#8c8c8c" stroke-width="0.75" fill="none" stroke-linecap="round" stroke-linejoin="round" d="M205.6,131.2 V148.2"/>
<path stroke="#8c8c8c" stroke-width="0.75" fill="none" stroke-linecap="round" stroke-linejoin="round" d="M203.3,148.4 L207.5,148.3 L208.3,150.6 Q210.5,152 212.7,150.6 L213.5,148.2 L222,148.3 L222.8,150.6 Q225,152 227.2,150.6 L228,148.2 L236,148.3 L236.8,150.6 Q239,152 241.2,150.6 L242,148.2 L250,148.3 L250.8,150.6 Q253,152 255.2,150.6 L256,148.2 L263.5,148.3 L264.3,150.6 Q266.5,152 268.7,150.6 L269.5,148.2 L276,148.3 L276.8,150.6 Q279,152 281.2,150.6 L282,148.2 L285,148"/>
<path stroke="#8c8c8c" stroke-width="0.75" fill="none" stroke-linecap="round" stroke-linejoin="round" d="M300.3,129 V146 M301.5,129 V146 M313.1,129 V146 M314.3,129 V146 M326.7,128.3 V143 Q326.6,146 323.5,146 L296,146.3"/>
<path fill="#050505" d="M209,101 L219.2,101 Q222,108.5 220.4,115.9 L210.2,115.9 Q211.8,108.5 209,101Z"/>
<path stroke="#fff" stroke-opacity="0.4" stroke-width="0.5" fill="none" d="M211.8,113.5 L218.5,104.5 M212,109.5 L216.5,103.5 M214,114.5 L219,109"/>
<path stroke="#999" stroke-width="0.55" fill="none" stroke-linecap="round" stroke-linejoin="round" d="M220.9,101.3 Q223.4,108.5 221.9,115.8 M222.3,101.3 Q224.8,108.5 223.2,115.8"/>
<path fill="#050505" d="M224.3,101 L233.5,101 Q236.3,108.5 234.70000000000002,115.9 L225.5,115.9 Q227.10000000000002,108.5 224.3,101Z"/>
<path stroke="#fff" stroke-opacity="0.4" stroke-width="0.5" fill="none" d="M227.10000000000002,113.5 L232.8,104.5 M227.3,109.5 L231.8,103.5 M229.3,114.5 L233.3,109"/>
<path stroke="#999" stroke-width="0.55" fill="none" stroke-linecap="round" stroke-linejoin="round" d="M235.20000000000002,101.3 Q237.70000000000002,108.5 236.20000000000002,115.8 M236.60000000000002,101.3 Q239.10000000000002,108.5 237.5,115.8"/>
<path fill="#050505" d="M238.7,101 L248.89999999999998,101 Q251.7,108.5 250.1,115.9 L239.89999999999998,115.9 Q241.5,108.5 238.7,101Z"/>
<path stroke="#fff" stroke-opacity="0.4" stroke-width="0.5" fill="none" d="M241.5,113.5 L248.2,104.5 M241.7,109.5 L246.2,103.5 M243.7,114.5 L248.7,109"/>
<path stroke="#999" stroke-width="0.55" fill="none" stroke-linecap="round" stroke-linejoin="round" d="M250.6,101.3 Q253.1,108.5 251.6,115.8 M252.0,101.3 Q254.5,108.5 252.89999999999998,115.8"/>
<path fill="#050505" d="M254.3,101 L263.9,101 Q266.7,108.5 265.09999999999997,115.9 L255.5,115.9 Q257.1,108.5 254.3,101Z"/>
<path stroke="#fff" stroke-opacity="0.4" stroke-width="0.5" fill="none" d="M257.1,113.5 L263.2,104.5 M257.3,109.5 L261.8,103.5 M259.3,114.5 L263.7,109"/>
<path stroke="#999" stroke-width="0.55" fill="none" stroke-linecap="round" stroke-linejoin="round" d="M265.59999999999997,101.3 Q268.09999999999997,108.5 266.59999999999997,115.8 M267.0,101.3 Q269.5,108.5 267.9,115.8"/>
<path fill="#050505" d="M281.3,101 L291.2,101 Q294,108.5 292.4,115.9 L282.5,115.9 Q284.1,108.5 281.3,101Z"/>
<path stroke="#fff" stroke-opacity="0.4" stroke-width="0.5" fill="none" d="M284.1,113.5 L290.5,104.5 M284.3,109.5 L288.8,103.5 M286.3,114.5 L291,109"/>
<path stroke="#999" stroke-width="0.55" fill="none" stroke-linecap="round" stroke-linejoin="round" d="M292.9,101.3 Q295.4,108.5 293.9,115.8 M294.3,101.3 Q296.8,108.5 295.2,115.8"/>
<path fill="#050505" d="M296.3,101 L304.5,101 Q307.3,108.5 305.7,115.9 L297.5,115.9 Q299.1,108.5 296.3,101Z"/>
<path stroke="#fff" stroke-opacity="0.4" stroke-width="0.5" fill="none" d="M299.1,113.5 L303.8,104.5 M299.3,109.5 L303.8,103.5 M301.3,114.5 L304.3,109"/>
<path stroke="#999" stroke-width="0.55" fill="none" stroke-linecap="round" stroke-linejoin="round" d="M306.2,101.3 Q308.7,108.5 307.2,115.8 M307.6,101.3 Q310.1,108.5 308.5,115.8"/>
<path fill="#050505" d="M309.7,101 L317.9,101 Q320.7,108.5 319.09999999999997,115.9 L310.9,115.9 Q312.5,108.5 309.7,101Z"/>
<path stroke="#fff" stroke-opacity="0.4" stroke-width="0.5" fill="none" d="M312.5,113.5 L317.2,104.5 M312.7,109.5 L317.2,103.5 M314.7,114.5 L317.7,109"/>
<path stroke="#999" stroke-width="0.55" fill="none" stroke-linecap="round" stroke-linejoin="round" d="M319.59999999999997,101.3 Q322.09999999999997,108.5 320.59999999999997,115.8 M321.0,101.3 Q323.5,108.5 321.9,115.8"/>
<path fill="#050505" d="M323.3,101 L330,101 L330,115.9 L324.5,115.9 Q324.7,108 323.3,101Z"/>
<path stroke="#fff" stroke-opacity="0.4" stroke-width="0.5" fill="none" d="M326.1,113.5 L328.5,104.5 M326.3,109.5 L330.8,103.5 M328.3,114.5 L329,109"/>
<path stroke="#8c8c8c" stroke-width="0.75" fill="none" stroke-linecap="round" stroke-linejoin="round" d="M207.3,101.2 Q208.6,108 207.8,116"/>
<path fill="#050505" d="M268.5,101 L278,101 Q280,108.5 279,115.9 L270,115.9 Q270,108 268.5,101Z"/>
<path stroke="#fff" stroke-opacity="0.33" stroke-width="0.5" fill="none" d="M271,113 L276.5,105"/>
<path fill="#fff" stroke="none" d="M276,119 L288.5,170.2 L310.5,167.1 L304.2,150.6 L300.3,141.1 L294,127.8 L287.5,116.5 Z"/>
<circle fill="#fff" stroke="none" cx="281.5" cy="115.3" r="5.9"/>
<path stroke="#8c8c8c" stroke-width="0.75" stroke-linecap="round" stroke-linejoin="round" fill="none" d="M276.6,118.4 Q281,122.6 287.4,116.8"/>
<path stroke="#8c8c8c" stroke-width="0.75" stroke-linecap="round" stroke-linejoin="round" fill="none" d="M275.6,122 L288.5,170.2 L290,183.6 L290.5,192.2 L288.9,201.6 L286.9,208.7"/>
<path stroke="#8c8c8c" stroke-width="0.75" stroke-linecap="round" stroke-linejoin="round" fill="none" d="M288.5,170.2 L279.9,187.5 L279,194.2"/>
<path stroke="#8c8c8c" stroke-width="0.75" stroke-linecap="round" stroke-linejoin="round" fill="none" d="M262.2,208.3 Q264,204 267.5,200.5 Q271.5,194.5 274.4,193.4 Q277.5,192.6 279.6,195.6 Q282.4,201 283.4,208.3"/>
<path stroke="#8c8c8c" stroke-width="0.75" stroke-linecap="round" stroke-linejoin="round" fill="none" d="M282.6,189.5 L290.5,192.2 M277.1,202.8 L283.4,208.3 M277.5,206.4 L281.4,207.2"/>
<path stroke="#8c8c8c" stroke-width="0.75" stroke-linecap="round" stroke-linejoin="round" fill="none" d="M287.7,116.8 L294,127.8 L300.3,141.1 L304.2,150.6 L310.5,167.1 L314,173"/>
<path stroke="#8c8c8c" stroke-width="0.75" stroke-linecap="round" stroke-linejoin="round" fill="none" d="M310.5,167.1 L333.3,177.3 L344.3,189.1 L345.5,199.3 L345.5,209.1"/>
</g>
<path fill="none" stroke="#8c8c8c" stroke-width="0.8" d="M1620.4,1194.3 C1624,1202 1625.4,1210 1624.7,1216 C1624,1228 1621,1238 1616.6,1246.6"/>
<path fill="#000" d="M1608.4,1180.1 L1624.3,1190 L1614.4,1196.4 Z"/>
<text x="1610.5" y="1263.5" font-size="12.3" textLength="16.8" lengthAdjust="spacingAndGlyphs">ON</text>
<g id="p4-warning" transform="translate(1272.3,1102.3) scale(0.968)"><path fill="none" stroke="#000" stroke-width="1.8" stroke-linejoin="miter" d="M429.5,84.05 L399.3,136.85 L459.7,136.85 Z"/>
<path fill="#000" d="M428.75,95.25 L434,95.25 L425.25,112 L439.75,112 L430,130 L433,131.5 L424.5,133.75 L422,125 L424.5,127 L431,117.25 L416.5,117.25 Z"/></g>
<!--/P4-->
</svg>
</body>
</html>
